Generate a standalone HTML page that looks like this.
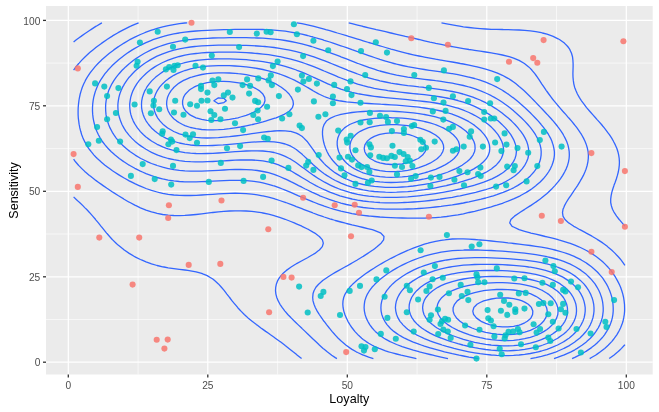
<!DOCTYPE html>
<html><head><meta charset="utf-8"><title>Loyalty vs Sensitivity</title>
<style>
html,body{margin:0;padding:0;background:#fff;}
body{width:659px;height:412px;overflow:hidden;font-family:"Liberation Sans",sans-serif;}
svg{display:block;}
text{font-family:"Liberation Sans",sans-serif;}
</style></head><body>
<svg width="659" height="412" viewBox="0 0 659 412">
<defs><filter id="nf" x="-20%" y="-20%" width="140%" height="140%"><feOffset dx="0" dy="0"/></filter></defs>
<rect x="0" y="0" width="659" height="412" fill="#ffffff"/>
<rect x="46" y="6" width="606.7" height="368.5" fill="#ebebeb"/>
<g stroke="#ffffff" stroke-width="0.62" fill="none">
<path d="M138.1 6 V374.5"/><path d="M46 319.5 H652.7"/>
<path d="M277.6 6 V374.5"/><path d="M46 234 H652.7"/>
<path d="M417.1 6 V374.5"/><path d="M46 148.6 H652.7"/>
<path d="M556.5 6 V374.5"/><path d="M46 63.1 H652.7"/>
</g>
<g stroke="#ffffff" stroke-width="1.25" fill="none">
<path d="M68.3 6 V374.5"/><path d="M46 362.2 H652.7"/>
<path d="M207.8 6 V374.5"/><path d="M46 276.8 H652.7"/>
<path d="M347.3 6 V374.5"/><path d="M46 191.3 H652.7"/>
<path d="M486.8 6 V374.5"/><path d="M46 105.8 H652.7"/>
<path d="M626.3 6 V374.5"/><path d="M46 20.4 H652.7"/>
</g>
<g stroke="#3366ff" stroke-width="1.3" fill="none" stroke-linejoin="round" stroke-linecap="butt">
<path d="M624.9 226.2 L622.1 222.9 L619.4 219.7 L619.2 219.5 L616.6 216.1 L614.3 212.7 L613.8 211.8 L612.5 209.3 L611.4 205.9 L610.7 202.5 L610.7 199.2 L611.1 195.8 L611.8 192.4 L612.8 189 L613.8 186 L613.9 185.6 L615.2 182.2 L616.4 178.8 L617.4 175.4 L618.3 172 L618.9 168.6 L619.3 165.2 L619.4 162.4 L619.4 161.8 L619.4 161.6 L619.2 158.5 L618.7 155.1 L617.9 151.7 L616.8 148.3 L615.3 144.9 L613.8 142 L613.6 141.5 L611.7 138.1 L609.4 134.7 L608.2 133.2 L606.9 131.3 L604.3 127.9 L602.7 126 L601.5 124.5 L598.5 121.1 L597.1 119.6 L595.5 117.8 L592.5 114.4 L591.5 113.3 L589.5 111 L586.6 107.6 L586 106.8 L584 104.2 L581.5 100.8 L580.4 99.2 L579.3 97.4 L577.4 94 L575.9 90.6 L574.8 87.7 L574.6 87.2 L573.8 83.8 L573.3 80.4 L573 77.1 L572.9 73.7 L573 70.3 L573.1 66.9 L573.1 63.5 L572.9 60.1 L572.5 56.7 L571.5 53.3 L570 49.9 L569.3 48.7 L567.7 46.5 L564.4 43.1 L563.7 42.5 L559.8 39.7 L558.1 38.8 L553.1 36.4 L552.5 36.1 L547 34.2 L542.4 33 L541.4 32.7 L535.8 31.6 L530.3 30.9 L524.7 30.3 L519.1 30 L513.6 29.8 L508 29.6 L503.6 29.6 L502.4 29.5 L496.8 29.4 L491.3 29.3 L485.7 29 L480.1 28.6 L474.6 28.1 L469 27.5 L463.4 26.8 L459.6 26.2 L457.9 25.9 L452.3 24.9 L446.7 23.8 L441.5 22.8"/>
<path d="M73.6 196.9 L76 199.2 L79.1 202.1 L79.6 202.5 L83.1 205.9 L84.7 207.6 L86.5 209.3 L89.7 212.7 L90.3 213.4 L92.7 216.1 L95.6 219.5 L95.8 219.8 L98.4 222.9 L101.1 226.3 L101.4 226.7 L103.8 229.7 L106.6 233.1 L107 233.5 L109.6 236.5 L112.5 239.7 L112.7 239.9 L116.1 243.2 L118.1 245.1 L120 246.6 L123.7 249.6 L124.3 250 L129.2 253.4 L129.2 253.4 L134.8 256.7 L135 256.8 L140.4 259.5 L142.1 260.2 L146 261.9 L150.9 263.6 L151.5 263.8 L157.1 265.5 L162.7 266.8 L164 267 L168.2 267.8 L173.8 268.6 L179.4 269.3 L184.9 270 L187.8 270.4 L190.5 270.8 L196.1 271.8 L201.7 273.3 L202.8 273.8 L207.2 275.6 L209.8 277.2 L212.8 279 L214.6 280.6 L218.4 283.9 L218.4 283.9 L221.4 287.3 L223.9 290.2 L224.3 290.7 L226.9 294.1 L229.5 297.3 L229.6 297.5 L232.1 300.9 L235 304.3 L235.1 304.4 L237.8 307.7 L240.6 310.7 L241 311.1 L244.3 314.5 L246.2 316.2 L248 317.9 L251.8 321 L252.1 321.3 L256.4 324.6 L257.4 325.3 L260.9 328 L262.9 329.4 L265.7 331.4 L268.5 333.3 L270.5 334.8 L274.1 337.3 L275.3 338.2 L279.6 341.3 L280.1 341.6 L284.6 345 L285.2 345.5 L288.9 348.4 L290.8 349.9 L293.1 351.8 L296.3 354.3 L297.3 355.2 L301.6 358.6"/>
<path d="M101.9 22.8 L101.4 23.1 L96.2 26.2 L95.8 26.4 L90.9 29.6 L90.3 30 L85.8 33 L84.7 33.7 L81 36.4 L79.1 37.7 L76.3 39.7 L73.6 41.9"/>
<path d="M609.2 358.6 L613.8 355.2 L613.8 355.2 L617.9 351.8 L619.4 350.4 L621.5 348.4 L624.6 345 L624.9 344.6"/>
<path d="M624.9 265.4 L623.7 263.6 L621.2 260.2 L619.4 258 L618.3 256.8 L615.1 253.4 L613.8 252.1 L611.6 250 L608.2 247.2 L607.6 246.6 L603.1 243.2 L602.7 242.9 L598 239.9 L597.1 239.2 L592.4 236.5 L591.5 235.9 L586.3 233.1 L586 232.9 L580.4 229.9 L579.9 229.7 L574.8 226.8 L573.8 226.3 L569.3 223.3 L568.7 222.9 L565 219.5 L563.7 217.3 L563 216.1 L562.5 212.7 L563 209.3 L563.7 207.7 L564.4 205.9 L566.2 202.5 L568.3 199.2 L569.3 197.7 L570.6 195.8 L572.9 192.4 L574.8 189.5 L575.2 189 L577.5 185.6 L579.6 182.2 L580.4 180.7 L581.5 178.8 L583.4 175.4 L584.9 172 L586 169.2 L586.2 168.6 L587.2 165.2 L587.9 161.8 L588.3 158.5 L588.4 155.1 L588.1 151.7 L587.4 148.3 L586.4 144.9 L586 143.8 L585.1 141.5 L583.5 138.1 L581.6 134.7 L580.4 132.9 L579.4 131.3 L577 127.9 L574.8 125.2 L574.3 124.5 L571.6 121.1 L569.3 118.5 L568.6 117.8 L565.7 114.4 L563.7 112.2 L562.6 111 L559.7 107.6 L558.1 105.8 L556.8 104.2 L554 100.8 L552.5 99 L551.3 97.4 L548.8 94 L547 91.5 L546.3 90.6 L544 87.2 L541.7 83.8 L541.4 83.3 L539.5 80.4 L537.3 77.1 L535.8 75 L534.8 73.7 L532 70.3 L530.3 68.4 L528.7 66.9 L524.7 63.7 L524.4 63.5 L519.1 60.4 L518.4 60.1 L513.6 58.1 L509.2 56.7 L508 56.3 L502.4 55 L496.8 53.9 L493.8 53.3 L491.3 52.9 L485.7 52 L480.1 51.2 L474.6 50.3 L471.9 49.9 L469 49.5 L463.4 48.6 L457.9 47.6 L452.3 46.6 L451.7 46.5 L446.7 45.6 L441.1 44.4 L435.6 43.3 L434.9 43.1 L430 42.1 L424.4 40.8 L419.8 39.7 L418.9 39.5 L413.3 38.2 L407.7 36.9 L405.4 36.4 L402.2 35.6 L396.6 34.3 L391 33 L390.8 33 L385.5 31.7 L379.9 30.4 L376.2 29.6 L374.3 29.1 L368.7 27.8 L363.2 26.5 L362.1 26.2 L357.6 25.1 L352 23.6 L348.7 22.8"/>
<path d="M73.6 159.2 L75.5 161.8 L78.5 165.2 L79.1 165.9 L81.8 168.6 L84.7 171.4 L85.4 172 L89.4 175.4 L90.3 176.1 L93.7 178.8 L95.8 180.4 L98.3 182.2 L101.4 184.4 L103.1 185.6 L107 188.3 L108.1 189 L112.5 192 L113.2 192.4 L118.1 195.5 L118.5 195.8 L123.7 198.9 L124.1 199.2 L129.2 202.2 L130 202.5 L134.8 205.1 L136.5 205.9 L140.4 207.8 L144.2 209.3 L146 210.1 L151.5 211.9 L154.6 212.7 L157.1 213.4 L162.7 214.5 L168.2 215.2 L173.8 215.5 L179.4 215.6 L184.9 215.4 L190.5 215 L196.1 214.5 L201.7 213.9 L207.2 213.2 L211.2 212.7 L212.8 212.5 L218.4 211.9 L223.9 211.4 L229.5 211 L235.1 210.8 L240.6 210.8 L246.2 211 L251.8 211.4 L257.4 212.1 L261.4 212.7 L262.9 213 L268.5 214.2 L274.1 215.7 L275.5 216.1 L279.6 217.4 L285.2 219.3 L285.7 219.5 L290.8 221.5 L294.3 222.9 L296.3 223.8 L301.9 226.2 L302 226.3 L307.5 229 L308.9 229.7 L313 232.1 L314.8 233.1 L318.6 235.9 L319.4 236.5 L322.4 239.9 L323.3 243.2 L322.3 246.6 L319.4 250 L318.6 250.6 L314.9 253.4 L313 254.5 L309.1 256.8 L307.5 257.7 L302.8 260.2 L301.9 260.7 L296.6 263.6 L296.3 263.8 L291.1 267 L290.8 267.2 L286.4 270.4 L285.2 271.4 L282.6 273.8 L279.8 277.2 L279.6 277.4 L277.7 280.6 L276.4 283.9 L275.7 287.3 L275.5 290.7 L275.9 294.1 L276.8 297.5 L278.2 300.9 L279.6 303.5 L280 304.3 L282.3 307.7 L284.9 311.1 L285.2 311.4 L287.8 314.5 L290.8 317.5 L291.1 317.9 L294.5 321.3 L296.3 323 L298 324.6 L301.6 328 L301.9 328.4 L305.1 331.4 L307.5 333.7 L308.6 334.8 L312.2 338.2 L313 339.1 L315.7 341.6 L318.6 344.3 L319.3 345 L323.1 348.4 L324.2 349.3 L327.2 351.8 L329.8 353.7 L331.7 355.2 L335.3 357.6 L336.9 358.6"/>
<path d="M138.6 22.8 L134.8 24.3 L130.7 26.2 L129.2 26.8 L123.8 29.6 L123.7 29.6 L118.1 32.6 L117.6 33 L112.5 35.9 L111.9 36.4 L107 39.5 L106.7 39.7 L101.8 43.1 L101.4 43.4 L97.2 46.5 L95.8 47.6 L92.9 49.9 L90.3 52.1 L88.9 53.3 L85.2 56.7 L84.7 57.2 L81.8 60.1 L79.1 63.1 L78.7 63.5 L75.9 66.9 L73.6 70.2"/>
<path d="M589.7 358.6 L591.5 357.5 L595.5 355.2 L597.1 354.1 L600.4 351.8 L602.7 350 L604.7 348.4 L608.2 345.2 L608.4 345 L611.7 341.6 L613.8 339 L614.4 338.2 L616.8 334.8 L618.8 331.4 L619.4 330.3 L620.5 328 L621.9 324.6 L623 321.3 L623.7 317.9 L624.3 314.5 L624.6 311.1 L624.6 307.7 L624.5 304.3 L624.1 300.9 L623.6 297.5 L622.8 294.1 L621.8 290.7 L620.6 287.3 L619.4 284.6 L619.1 283.9 L617.4 280.6 L615.5 277.2 L613.8 274.6 L613.3 273.8 L610.8 270.4 L608.2 267.4 L607.9 267 L604.6 263.6 L602.7 261.8 L600.9 260.2 L597.1 257.2 L596.5 256.8 L591.5 253.4 L591.5 253.4 L586 250.3 L585.5 250 L580.4 247.5 L578.3 246.6 L574.8 245.1 L569.6 243.2 L569.3 243.1 L563.7 241.3 L558.7 239.9 L558.1 239.7 L552.5 238.2 L547 236.8 L545.3 236.5 L541.4 235.5 L535.8 234.2 L530.9 233.1 L530.3 232.9 L524.7 231.3 L519.1 229.7 L519.1 229.7 L513.6 227 L512.1 226.3 L509.7 222.9 L510.9 219.5 L513.6 217.1 L514.5 216.1 L519.1 213 L519.4 212.7 L524.7 209.4 L524.8 209.3 L530.1 205.9 L530.3 205.9 L535.2 202.5 L535.8 202.1 L539.9 199.2 L541.4 198.1 L544.2 195.8 L547 193.4 L548.1 192.4 L551.7 189 L552.5 188.1 L554.9 185.6 L557.8 182.2 L558.1 181.8 L560.4 178.8 L562.7 175.4 L563.7 173.6 L564.6 172 L566.3 168.6 L567.6 165.2 L568.5 161.8 L569.1 158.5 L569.3 155.7 L569.3 155.1 L569.3 153.9 L569.2 151.7 L568.7 148.3 L567.9 144.9 L566.7 141.5 L565.1 138.1 L563.7 135.5 L563.3 134.7 L561.2 131.3 L558.7 127.9 L558.1 127.2 L556.1 124.5 L553.3 121.1 L552.5 120.3 L550.3 117.8 L547.2 114.4 L547 114.2 L544 111 L541.4 108.2 L540.8 107.6 L537.5 104.2 L535.8 102.4 L534.2 100.8 L530.9 97.4 L530.3 96.8 L527.5 94 L524.7 91.3 L523.9 90.6 L520.1 87.2 L519.1 86.4 L516 83.8 L513.6 82 L511.3 80.4 L508 78.3 L505.7 77.1 L502.4 75.3 L498.7 73.7 L496.8 72.8 L491.3 70.8 L489.6 70.3 L485.7 69.1 L480.1 67.6 L477.1 66.9 L474.6 66.3 L469 65.1 L463.4 64 L460.3 63.5 L457.9 63 L452.3 62 L446.7 61.1 L441.1 60.1 L440.8 60.1 L435.6 59.2 L430 58.1 L424.4 57.1 L422.4 56.7 L418.9 56 L413.3 54.8 L407.7 53.5 L407.1 53.3 L402.2 52.1 L396.6 50.6 L394.1 49.9 L391 49.1 L385.5 47.5 L382.2 46.5 L379.9 45.8 L374.3 44.2 L370.9 43.1 L368.7 42.5 L363.2 40.8 L359.7 39.7 L357.6 39.1 L352 37.4 L348.6 36.4 L346.5 35.7 L340.9 34 L337.4 33 L335.3 32.3 L329.8 30.7 L325.8 29.6 L324.2 29.1 L318.6 27.6 L313.1 26.2 L313 26.2 L307.5 24.8 L301.9 23.7 L297 22.8"/>
<path d="M187.2 22.8 L184.9 23 L179.4 23.7 L173.8 24.6 L168.2 25.7 L166 26.2 L162.7 26.9 L157.1 28.4 L153.4 29.6 L151.5 30.2 L146 32.2 L144.1 33 L140.4 34.5 L136.4 36.4 L134.8 37.1 L129.8 39.7 L129.2 40 L124 43.1 L123.7 43.3 L118.7 46.5 L118.1 46.9 L113.8 49.9 L112.5 50.9 L109.4 53.3 L107 55.3 L105.3 56.7 L101.5 60.1 L101.4 60.2 L98 63.5 L95.8 65.9 L94.9 66.9 L92.1 70.3 L90.3 72.7 L89.6 73.7 L87.3 77.1 L85.4 80.4 L84.7 82 L83.8 83.8 L82.3 87.2 L81.2 90.6 L80.2 94 L79.5 97.4 L79.1 99.5 L78.9 100.8 L78.5 104.2 L78.2 107.6 L78.1 111 L78.1 114.4 L78.3 117.8 L78.7 121.1 L79.1 124.2 L79.2 124.5 L79.8 127.9 L80.7 131.3 L81.7 134.7 L83 138.1 L84.6 141.5 L84.7 141.6 L86.5 144.9 L88.6 148.3 L90.3 150.5 L91.2 151.7 L94 155.1 L95.8 157 L97.3 158.5 L101 161.8 L101.4 162.2 L105 165.2 L107 166.7 L109.5 168.6 L112.5 170.8 L114.4 172 L118.1 174.4 L119.7 175.4 L123.7 177.8 L125.5 178.8 L129.2 180.9 L131.8 182.2 L134.8 183.7 L139 185.6 L140.4 186.2 L146 188.5 L147.4 189 L151.5 190.4 L157.1 192 L158.6 192.4 L162.7 193.3 L168.2 194.3 L173.8 195 L179.4 195.4 L184.9 195.5 L190.5 195.5 L196.1 195.3 L201.7 195 L207.2 194.7 L212.8 194.3 L218.4 193.9 L223.9 193.6 L229.5 193.3 L235.1 193.2 L240.6 193.3 L246.2 193.6 L251.8 194.1 L257.4 194.9 L262.3 195.8 L262.9 195.9 L268.5 197.2 L274.1 198.7 L275.5 199.2 L279.6 200.5 L285.2 202.4 L285.7 202.5 L290.8 204.4 L294.7 205.9 L296.3 206.6 L301.9 208.7 L303.4 209.3 L307.5 210.9 L312.3 212.7 L313 213 L318.6 215.1 L321.8 216.1 L324.2 217 L329.8 218.8 L332.3 219.5 L335.3 220.5 L340.9 222 L344.5 222.9 L346.5 223.5 L352 224.9 L357.6 226.1 L358.5 226.3 L363.2 227.5 L368.7 228.8 L372.3 229.7 L374.3 230.4 L379.9 232.6 L380.9 233.1 L384 236.5 L383.6 239.9 L381.1 243.2 L379.9 244.3 L377.3 246.6 L374.3 248.9 L372.8 250 L368.7 252.8 L367.8 253.4 L363.2 256.4 L362.5 256.8 L357.6 259.7 L356.8 260.2 L352 263 L351 263.6 L346.5 266.2 L344.9 267 L340.9 269.3 L338.9 270.4 L335.3 272.4 L333 273.8 L329.8 275.8 L327.5 277.2 L324.2 279.5 L322.7 280.6 L318.9 283.9 L318.6 284.2 L315.9 287.3 L314 290.7 L313 293.8 L313 294.1 L312.7 297.5 L313 300.9 L313 300.9 L314 304.3 L315.4 307.7 L317.2 311.1 L318.6 313.3 L319.3 314.5 L321.6 317.9 L324 321.3 L324.2 321.4 L326.6 324.6 L329.3 328 L329.8 328.6 L332 331.4 L335 334.8 L335.3 335.1 L338.2 338.2 L340.9 340.8 L341.8 341.6 L345.8 345 L346.5 345.5 L350.5 348.4 L352 349.4 L356.2 351.8 L357.6 352.5 L363.2 355.1 L363.5 355.2 L368.7 357.1 L373.4 358.6"/>
<path d="M572.1 358.6 L574.8 357.4 L579.3 355.2 L580.4 354.6 L585.3 351.8 L586 351.4 L590.4 348.4 L591.5 347.6 L594.8 345 L597.1 342.9 L598.5 341.6 L601.7 338.2 L602.7 337.1 L604.5 334.8 L606.7 331.4 L608.2 328.7 L608.6 328 L610.2 324.6 L611.4 321.3 L612.3 317.9 L612.9 314.5 L613.2 311.1 L613.2 307.7 L613 304.3 L612.6 300.9 L611.9 297.5 L610.9 294.1 L609.7 290.7 L608.2 287.5 L608.2 287.3 L606.4 283.9 L604.3 280.6 L602.7 278.2 L601.9 277.2 L599 273.8 L597.1 271.7 L595.7 270.4 L591.8 267 L591.5 266.7 L587.2 263.6 L586 262.7 L581.7 260.2 L580.4 259.4 L575 256.8 L574.8 256.7 L569.3 254.4 L566.4 253.4 L563.7 252.5 L558.1 250.8 L554.9 250 L552.5 249.4 L547 248.2 L541.4 247.2 L537.7 246.6 L535.8 246.3 L530.3 245.5 L524.7 244.8 L519.1 244.1 L513.6 243.5 L511.2 243.2 L508 242.9 L502.4 242.2 L496.8 241.6 L491.3 241 L485.7 240.4 L480.1 240 L478.8 239.9 L474.6 239.5 L469 239.1 L463.4 238.9 L457.9 238.8 L452.3 239 L446.7 239.6 L444.7 239.9 L441.1 240.3 L435.6 241.3 L430 242.6 L428.1 243.2 L424.4 244.2 L418.9 246.1 L417.4 246.6 L413.3 248.1 L408.7 250 L407.7 250.4 L402.2 252.8 L401 253.4 L396.6 255.5 L394 256.8 L391 258.3 L387.5 260.2 L385.5 261.3 L381.5 263.6 L379.9 264.5 L375.8 267 L374.3 268 L370.5 270.4 L368.7 271.6 L365.5 273.8 L363.2 275.5 L360.9 277.2 L357.6 279.8 L356.7 280.6 L352.9 283.9 L352 284.9 L349.7 287.3 L347.1 290.7 L346.5 291.9 L345.1 294.1 L343.7 297.5 L343 300.9 L342.8 304.3 L343.1 307.7 L343.8 311.1 L344.9 314.5 L346.3 317.9 L346.5 318.2 L347.9 321.3 L349.9 324.6 L352 327.8 L352.2 328 L354.8 331.4 L357.6 334.4 L358 334.8 L361.7 338.2 L363.2 339.4 L366.2 341.6 L368.7 343.2 L371.8 345 L374.3 346.3 L379.1 348.4 L379.9 348.7 L385.5 350.8 L388.6 351.8 L391 352.5 L396.6 354 L401.1 355.2 L402.2 355.4 L407.7 356.7 L413.3 357.9 L416.4 358.6"/>
<path d="M370.5 216.1 L374.3 216.5 L379.9 217 L385.5 217.3 L391 217.6 L396.6 217.8 L402.2 218 L407.7 218.1 L413.3 218.2 L418.9 218.2 L424.4 218.1 L430 217.9 L435.6 217.6 L441.1 217.2 L446.7 216.5 L449.2 216.1 L452.3 215.7 L457.9 214.9 L463.4 213.8 L468.1 212.7 L469 212.5 L474.6 211.3 L480.1 209.9 L482.1 209.3 L485.7 208.4 L491.3 206.8 L494.1 205.9 L496.8 205.1 L502.4 203.3 L504.3 202.5 L508 201.2 L512.9 199.2 L513.6 198.9 L519.1 196.3 L520.2 195.8 L524.7 193.3 L526.3 192.4 L530.3 189.9 L531.6 189 L535.8 185.8 L536 185.6 L539.9 182.2 L541.4 180.7 L543.3 178.8 L546.1 175.4 L547 174.2 L548.5 172 L550.5 168.6 L552 165.2 L552.5 163.8 L553.2 161.8 L554 158.5 L554.4 155.1 L554.4 151.7 L553.9 148.3 L553.1 144.9 L552.5 143.2 L552 141.5 L550.5 138.1 L548.6 134.7 L547 132.2 L546.4 131.3 L543.9 127.9 L541.4 124.8 L541.2 124.5 L538.3 121.1 L535.8 118.5 L535.1 117.8 L531.8 114.4 L530.3 112.8 L528.4 111 L524.7 107.6 L524.7 107.6 L521 104.2 L519.1 102.6 L517 100.8 L513.6 98 L512.7 97.4 L508.1 94 L508 94 L502.9 90.6 L502.4 90.3 L496.9 87.2 L496.8 87.2 L491.3 84.5 L489.7 83.8 L485.7 82.2 L480.7 80.4 L480.1 80.2 L474.6 78.5 L469 77.1 L468.7 77.1 L463.4 75.8 L457.9 74.7 L452.3 73.7 L451.9 73.7 L446.7 72.8 L441.1 71.9 L435.6 71.1 L430 70.3 L429.5 70.3 L424.4 69.5 L418.9 68.6 L413.3 67.7 L408.8 66.9 L407.7 66.7 L402.2 65.5 L396.6 64.2 L393.9 63.5 L391 62.7 L385.5 61.1 L382.2 60.1 L379.9 59.4 L374.3 57.5 L371.9 56.7 L368.7 55.6 L363.2 53.7 L362.2 53.3 L357.6 51.7 L352.7 49.9 L352 49.7 L346.5 47.7 L343.1 46.5 L340.9 45.8 L335.3 43.9 L333.1 43.1 L329.8 42 L324.2 40.3 L322.5 39.7 L318.6 38.6 L313 37 L310.6 36.4 L307.5 35.5 L301.9 34.2 L296.3 33.1 L295.7 33 L290.8 32.1 L285.2 31.2 L279.6 30.6 L274.1 30.1 L268.5 29.7 L265.4 29.6 L262.9 29.5 L257.4 29.3 L251.8 29.3 L246.2 29.3 L240.6 29.3 L235.1 29.4 L229.5 29.6 L229.2 29.6 L223.9 29.7 L218.4 29.9 L212.8 30.1 L207.2 30.3 L201.7 30.6 L196.1 31 L190.5 31.5 L184.9 32.1 L179.4 32.9 L179.2 33 L173.8 33.9 L168.2 35.1 L163.5 36.4 L162.7 36.6 L157.1 38.3 L153 39.7 L151.5 40.3 L146 42.6 L144.9 43.1 L140.4 45.3 L138.2 46.5 L134.8 48.4 L132.3 49.9 L129.2 51.9 L127.1 53.3 L123.7 55.8 L122.5 56.7 L118.3 60.1 L118.1 60.2 L114.4 63.5 L112.5 65.3 L111 66.9 L107.8 70.3 L107 71.3 L105 73.7 L102.6 77.1 L101.4 78.9 L100.4 80.4 L98.5 83.8 L97 87.2 L95.8 90.2 L95.6 90.6 L94.6 94 L93.7 97.4 L93.1 100.8 L92.7 104.2 L92.5 107.6 L92.5 111 L92.7 114.4 L93.1 117.8 L93.7 121.1 L94.5 124.5 L95.5 127.9 L95.8 128.7 L96.8 131.3 L98.4 134.7 L100.3 138.1 L101.4 139.9 L102.4 141.5 L105 144.9 L107 147.2 L107.9 148.3 L111.3 151.7 L112.5 152.8 L115 155.1 L118.1 157.5 L119.3 158.5 L123.7 161.6 L124 161.8 L129.2 165.2 L129.4 165.2 L134.8 168.3 L135.4 168.6 L140.4 171.1 L142.4 172 L146 173.6 L150.8 175.4 L151.5 175.7 L157.1 177.5 L162.3 178.8 L162.7 178.9 L168.2 180.1 L173.8 180.9 L179.4 181.5 L184.9 181.8 L190.5 181.9 L196.1 181.9 L201.7 181.7 L207.2 181.5 L212.8 181.2 L218.4 180.9 L223.9 180.6 L229.5 180.4 L235.1 180.3 L240.6 180.3 L246.2 180.6 L251.8 181.1 L257.4 181.8 L259.3 182.2 L262.9 182.9 L268.5 184.3 L272.9 185.6 L274.1 185.9 L279.6 187.9 L282.4 189 L285.2 190.1 L290.8 192.4 L290.8 192.4 L296.3 194.8 L298.5 195.8 L301.9 197.2 L306.4 199.2 L307.5 199.6 L313 201.9 L314.6 202.5 L318.6 204.1 L323.7 205.9 L324.2 206.1 L329.8 208 L334.3 209.3 L335.3 209.6 L340.9 211.2 L346.5 212.4 L348 212.7 L352 213.6 L357.6 214.5 L363.2 215.3 L368.7 216 L370.5 216.1Z"/>
<path d="M554 358.6 L558.1 357.2 L563.5 355.2 L563.7 355.1 L569.3 352.6 L571 351.8 L574.8 349.8 L577.2 348.4 L580.4 346.3 L582.3 345 L586 342.2 L586.7 341.6 L590.4 338.2 L591.5 337 L593.5 334.8 L596 331.4 L597.1 329.7 L598.2 328 L599.9 324.6 L601.2 321.3 L602.2 317.9 L602.7 315.3 L602.8 314.5 L603.2 311.1 L603.2 307.7 L602.9 304.3 L602.7 302.6 L602.4 300.9 L601.6 297.5 L600.4 294.1 L599 290.7 L597.1 287.3 L597.1 287.3 L595 283.9 L592.3 280.6 L591.5 279.6 L589.2 277.2 L586 274.1 L585.6 273.8 L581.1 270.4 L580.4 269.9 L575.7 267 L574.8 266.5 L569.3 263.7 L569 263.6 L563.7 261.4 L560.1 260.2 L558.1 259.5 L552.5 258 L547.6 256.8 L547 256.7 L541.4 255.6 L535.8 254.6 L530.3 253.9 L526.3 253.4 L524.7 253.2 L519.1 252.6 L513.6 252.1 L508 251.6 L502.4 251.2 L496.8 250.9 L491.3 250.5 L485.7 250.3 L480.1 250.1 L477.7 250 L474.6 250 L469 249.9 L464.7 250 L463.4 250.1 L457.9 250.3 L452.3 250.7 L446.7 251.4 L441.1 252.2 L435.6 253.4 L435.3 253.4 L430 254.6 L424.4 256.2 L422.6 256.8 L418.9 258 L413.3 260.1 L413.1 260.2 L407.7 262.5 L405.3 263.6 L402.2 265.1 L398.6 267 L396.6 268.1 L392.7 270.4 L391 271.5 L387.5 273.8 L385.5 275.2 L382.8 277.2 L379.9 279.6 L378.7 280.6 L375.1 283.9 L374.3 284.9 L372 287.3 L369.5 290.7 L368.7 292 L367.4 294.1 L365.9 297.5 L364.8 300.9 L364.3 304.3 L364.1 307.7 L364.4 311.1 L365.1 314.5 L366.2 317.9 L367.8 321.3 L368.7 322.9 L369.7 324.6 L372.2 328 L374.3 330.4 L375.3 331.4 L379.2 334.8 L379.9 335.4 L384 338.2 L385.5 339.1 L390.1 341.6 L391 342 L396.6 344.5 L397.9 345 L402.2 346.6 L407.6 348.4 L407.7 348.4 L413.3 350.1 L418.9 351.6 L419.4 351.8 L424.4 353.1 L430 354.5 L432.9 355.2 L435.6 355.8 L441.1 357.1 L446.7 358.3 L448 358.6"/>
<path d="M353.7 205.9 L357.6 206.7 L363.2 207.5 L368.7 208.1 L374.3 208.6 L379.9 208.9 L385.5 209.1 L391 209.2 L396.6 209.2 L402.2 209.1 L407.7 209 L413.3 208.8 L418.9 208.5 L424.4 208.1 L430 207.6 L435.6 207 L441.1 206.4 L444.4 205.9 L446.7 205.6 L452.3 204.9 L457.9 204 L463.4 203 L465.5 202.5 L469 201.9 L474.6 200.7 L480.1 199.4 L481.1 199.2 L485.7 198 L491.3 196.4 L493.4 195.8 L496.8 194.7 L502.4 192.7 L503.2 192.4 L508 190.4 L511.1 189 L513.6 187.8 L517.5 185.6 L519.1 184.6 L522.8 182.2 L524.7 180.8 L527.2 178.8 L530.3 176 L530.8 175.4 L533.9 172 L535.8 169.3 L536.3 168.6 L538.2 165.2 L539.7 161.8 L540.6 158.5 L541.1 155.1 L541.2 151.7 L540.9 148.3 L540.1 144.9 L539 141.5 L537.4 138.1 L535.8 135.3 L535.5 134.7 L533.3 131.3 L530.7 127.9 L530.3 127.4 L527.8 124.5 L524.7 121.1 L524.7 121.1 L521.3 117.8 L519.1 115.7 L517.7 114.4 L513.8 111 L513.6 110.8 L509.6 107.6 L508 106.3 L505.1 104.2 L502.4 102.3 L500.1 100.8 L496.8 98.8 L494.4 97.4 L491.3 95.7 L487.9 94 L485.7 93 L480.1 90.7 L479.9 90.6 L474.6 88.7 L469.7 87.2 L469 87 L463.4 85.5 L457.9 84.3 L455.4 83.8 L452.3 83.2 L446.7 82.3 L441.1 81.4 L435.6 80.7 L433.6 80.4 L430 80 L424.4 79.3 L418.9 78.6 L413.3 77.8 L407.7 77.1 L407.7 77.1 L402.2 76.1 L396.6 75.1 L391 73.9 L390.1 73.7 L385.5 72.5 L379.9 71 L377.6 70.3 L374.3 69.2 L368.7 67.4 L367.4 66.9 L363.2 65.4 L358.2 63.5 L357.6 63.3 L352 61.1 L349.5 60.1 L346.5 58.9 L340.9 56.8 L340.7 56.7 L335.3 54.7 L331.7 53.3 L329.8 52.6 L324.2 50.6 L322.1 49.9 L318.6 48.8 L313 47 L311.4 46.5 L307.5 45.4 L301.9 43.9 L298.5 43.1 L296.3 42.6 L290.8 41.5 L285.2 40.5 L279.7 39.7 L279.6 39.7 L274.1 39.1 L268.5 38.6 L262.9 38.2 L257.4 38 L251.8 37.8 L246.2 37.7 L240.6 37.7 L235.1 37.7 L229.5 37.7 L223.9 37.8 L218.4 37.9 L212.8 38 L207.2 38.3 L201.7 38.6 L196.1 39 L190.5 39.6 L189 39.7 L184.9 40.3 L179.4 41.2 L173.8 42.3 L170.4 43.1 L168.2 43.7 L162.7 45.4 L159.4 46.5 L157.1 47.4 L151.5 49.7 L151.1 49.9 L146 52.5 L144.5 53.3 L140.4 55.7 L138.8 56.7 L134.8 59.4 L133.9 60.1 L129.5 63.5 L129.2 63.7 L125.6 66.9 L123.7 68.8 L122.1 70.3 L119.1 73.7 L118.1 74.9 L116.3 77.1 L114 80.4 L112.5 82.8 L111.9 83.8 L110.2 87.2 L108.7 90.6 L107.6 94 L107 96.4 L106.7 97.4 L106.1 100.8 L105.7 104.2 L105.6 107.6 L105.7 111 L106 114.4 L106.6 117.8 L107 119.1 L107.5 121.1 L108.6 124.5 L110 127.9 L111.8 131.3 L112.5 132.6 L113.8 134.7 L116.2 138.1 L118.1 140.4 L119.1 141.5 L122.3 144.9 L123.7 146.2 L126 148.3 L129.2 150.9 L130.3 151.7 L134.8 154.8 L135.2 155.1 L140.4 158.2 L140.9 158.5 L146 161 L147.7 161.8 L151.5 163.5 L156.3 165.2 L157.1 165.5 L162.7 167.2 L168.2 168.6 L168.6 168.6 L173.8 169.6 L179.4 170.3 L184.9 170.8 L190.5 171.1 L196.1 171.1 L201.7 171.1 L207.2 170.9 L212.8 170.6 L218.4 170.3 L223.9 170 L229.5 169.7 L235.1 169.5 L240.6 169.5 L246.2 169.6 L251.8 169.9 L257.4 170.5 L262.9 171.5 L265.4 172 L268.5 172.7 L274.1 174.4 L276.7 175.4 L279.6 176.5 L284.9 178.8 L285.2 178.9 L290.8 181.6 L291.9 182.2 L296.3 184.4 L298.6 185.6 L301.9 187.2 L305.3 189 L307.5 190 L312.3 192.4 L313 192.7 L318.6 195.2 L319.9 195.8 L324.2 197.5 L328.6 199.2 L329.8 199.6 L335.3 201.4 L339.1 202.5 L340.9 203.1 L346.5 204.5 L352 205.7 L353.7 205.9Z"/>
<path d="M530.5 358.6 L535.8 357.6 L541.4 356.4 L545.9 355.2 L547 354.9 L552.5 353.1 L556.2 351.8 L558.1 351 L563.7 348.5 L564 348.4 L569.3 345.6 L570.2 345 L574.8 342 L575.3 341.6 L579.6 338.2 L580.4 337.5 L583.1 334.8 L586 331.5 L586.1 331.4 L588.5 328 L590.4 324.6 L591.5 322 L591.8 321.3 L592.9 317.9 L593.6 314.5 L594 311.1 L594 307.7 L593.7 304.3 L593 300.9 L592 297.5 L591.5 296.4 L590.6 294.1 L588.8 290.7 L586.6 287.3 L586 286.5 L583.9 283.9 L580.6 280.6 L580.4 280.4 L576.6 277.2 L574.8 275.9 L571.6 273.8 L569.3 272.4 L565.4 270.4 L563.7 269.6 L558.1 267.3 L557.2 267 L552.5 265.5 L547 263.9 L545.4 263.6 L541.4 262.7 L535.8 261.7 L530.3 260.9 L525 260.2 L524.7 260.2 L519.1 259.6 L513.6 259.1 L508 258.7 L502.4 258.4 L496.8 258.1 L491.3 257.9 L485.7 257.7 L480.1 257.7 L474.6 257.7 L469 257.8 L463.4 258.1 L457.9 258.5 L452.3 259.1 L446.7 260 L445.4 260.2 L441.1 261 L435.6 262.2 L430.6 263.6 L430 263.8 L424.4 265.6 L420.7 267 L418.9 267.7 L413.3 270.2 L412.9 270.4 L407.7 273.1 L406.5 273.8 L402.2 276.5 L401.1 277.2 L396.6 280.5 L396.5 280.6 L392.6 283.9 L391 285.6 L389.4 287.3 L386.7 290.7 L385.5 292.7 L384.6 294.1 L382.9 297.5 L381.8 300.9 L381.1 304.3 L380.9 307.7 L381.1 311.1 L381.8 314.5 L383 317.9 L384.8 321.3 L385.5 322.3 L387 324.6 L390 328 L391 329 L393.8 331.4 L396.6 333.4 L398.6 334.8 L402.2 336.9 L404.6 338.2 L407.7 339.7 L412.1 341.6 L413.3 342.1 L418.9 344.2 L421.2 345 L424.4 346.1 L430 347.8 L432 348.4 L435.6 349.4 L441.1 350.9 L444.5 351.8 L446.7 352.3 L452.3 353.7 L457.9 354.9 L459.2 355.2 L463.4 356 L469 357.1 L474.6 358 L478.5 358.6"/>
<path d="M379.5 202.5 L379.9 202.6 L385.5 202.8 L391 202.9 L396.6 202.8 L402.2 202.6 L404.1 202.5 L407.7 202.4 L413.3 202 L418.9 201.6 L424.4 201.1 L430 200.5 L435.6 199.8 L440 199.2 L441.1 199 L446.7 198.2 L452.3 197.3 L457.9 196.2 L460.2 195.8 L463.4 195.1 L469 193.9 L474.6 192.6 L475.6 192.4 L480.1 191.2 L485.7 189.6 L487.6 189 L491.3 187.8 L496.8 185.7 L497.1 185.6 L502.4 183.3 L504.6 182.2 L508 180.3 L510.6 178.8 L513.6 176.8 L515.4 175.4 L519.1 172.2 L519.3 172 L522.4 168.6 L524.7 165.4 L524.8 165.2 L526.6 161.8 L527.9 158.5 L528.6 155.1 L528.8 151.7 L528.5 148.3 L527.8 144.9 L526.7 141.5 L525.1 138.1 L524.7 137.4 L523.1 134.7 L520.8 131.3 L519.1 129.3 L518 127.9 L515 124.5 L513.6 123.1 L511.6 121.1 L508 117.8 L507.9 117.8 L503.8 114.4 L502.4 113.3 L499.3 111 L496.8 109.3 L494.2 107.6 L491.3 105.8 L488.5 104.2 L485.7 102.7 L481.8 100.8 L480.1 100 L474.6 97.8 L473.6 97.4 L469 95.8 L463.4 94.1 L462.9 94 L457.9 92.7 L452.3 91.5 L447.5 90.6 L446.7 90.5 L441.1 89.6 L435.6 88.8 L430 88.1 L424.4 87.5 L422.1 87.2 L418.9 86.9 L413.3 86.2 L407.7 85.6 L402.2 84.8 L396.6 84 L395.3 83.8 L391 83.1 L385.5 82 L379.9 80.8 L378.4 80.4 L374.3 79.4 L368.7 77.8 L366.4 77.1 L363.2 76 L357.6 74 L356.7 73.7 L352 71.9 L347.9 70.3 L346.5 69.7 L340.9 67.4 L339.6 66.9 L335.3 65.1 L331.3 63.5 L329.8 62.9 L324.2 60.7 L322.6 60.1 L318.6 58.6 L313.2 56.7 L313 56.7 L307.5 54.9 L302.3 53.3 L301.9 53.2 L296.3 51.7 L290.8 50.4 L288.4 49.9 L285.2 49.3 L279.6 48.3 L274.1 47.5 L268.5 46.9 L264.8 46.5 L262.9 46.4 L257.4 46 L251.8 45.6 L246.2 45.4 L240.6 45.3 L235.1 45.2 L229.5 45.1 L223.9 45.1 L218.4 45.2 L212.8 45.4 L207.2 45.6 L201.7 45.9 L196.1 46.4 L194.9 46.5 L190.5 47 L184.9 47.9 L179.4 48.9 L175.1 49.9 L173.8 50.2 L168.2 51.9 L164.1 53.3 L162.7 53.9 L157.1 56.2 L156.1 56.7 L151.5 59.1 L149.8 60.1 L146 62.5 L144.4 63.5 L140.4 66.5 L139.9 66.9 L135.9 70.3 L134.8 71.3 L132.4 73.7 L129.4 77.1 L129.2 77.2 L126.8 80.4 L124.5 83.8 L123.7 85.4 L122.6 87.2 L121.1 90.6 L119.8 94 L118.9 97.4 L118.3 100.8 L118.1 102.4 L117.9 104.2 L117.9 107.6 L118.1 110.9 L118.1 111 L118.6 114.4 L119.5 117.8 L120.6 121.1 L122 124.5 L123.7 127.6 L123.8 127.9 L126 131.3 L128.6 134.7 L129.2 135.4 L131.7 138.1 L134.8 141.1 L135.2 141.5 L139.4 144.9 L140.4 145.6 L144.4 148.3 L146 149.3 L150.3 151.7 L151.5 152.3 L157.1 154.8 L157.8 155.1 L162.7 156.8 L168.2 158.5 L168.2 158.5 L173.8 159.7 L179.4 160.7 L184.9 161.3 L190.5 161.7 L195.3 161.8 L196.1 161.9 L201.7 161.9 L202.5 161.8 L207.2 161.7 L212.8 161.5 L218.4 161.2 L223.9 160.8 L229.5 160.5 L235.1 160.2 L240.6 160 L246.2 159.9 L251.8 160 L257.4 160.3 L262.9 160.9 L268.1 161.8 L268.5 161.9 L274.1 163.4 L279.3 165.2 L279.6 165.4 L285.2 167.9 L286.6 168.6 L290.8 170.8 L292.8 172 L296.3 174.1 L298.5 175.4 L301.9 177.5 L304.1 178.8 L307.5 180.8 L309.8 182.2 L313 184 L315.9 185.6 L318.6 187 L322.7 189 L324.2 189.7 L329.8 192.1 L330.5 192.4 L335.3 194.2 L339.9 195.8 L340.9 196.1 L346.5 197.7 L352 199 L352.7 199.2 L357.6 200.1 L363.2 201 L368.7 201.7 L374.3 202.2 L379.5 202.5Z"/>
<path d="M493.8 355.2 L496.8 355.4 L502.4 355.6 L508 355.6 L513.6 355.4 L516.7 355.2 L519.1 355 L524.7 354.4 L530.3 353.5 L535.8 352.4 L538.3 351.8 L541.4 351 L547 349.3 L549.5 348.4 L552.5 347.2 L557.6 345 L558.1 344.7 L563.7 341.7 L563.9 341.6 L568.9 338.2 L569.3 337.9 L573 334.8 L574.8 333 L576.4 331.4 L579.1 328 L580.4 326 L581.2 324.6 L582.9 321.3 L584.1 317.9 L584.8 314.5 L585.2 311.1 L585.2 307.7 L584.7 304.3 L583.9 300.9 L582.7 297.5 L581 294.1 L580.4 293.2 L578.8 290.7 L576 287.3 L574.8 286.1 L572.6 283.9 L569.3 281.2 L568.3 280.6 L563.7 277.6 L562.9 277.2 L558.1 274.8 L555.7 273.8 L552.5 272.6 L547 270.8 L545.5 270.4 L541.4 269.3 L535.8 268.1 L530.3 267.2 L528.7 267 L524.7 266.4 L519.1 265.8 L513.6 265.4 L508 265 L502.4 264.7 L496.8 264.5 L491.3 264.4 L485.7 264.3 L480.1 264.4 L474.6 264.5 L469 264.8 L463.4 265.2 L457.9 265.8 L452.3 266.6 L450.2 267 L446.7 267.6 L441.1 268.9 L435.8 270.4 L435.6 270.4 L430 272.3 L426.3 273.8 L424.4 274.6 L419.1 277.2 L418.9 277.3 L413.4 280.6 L413.3 280.6 L408.7 283.9 L407.7 284.8 L404.9 287.3 L402.2 290.4 L401.9 290.7 L399.5 294.1 L397.7 297.5 L396.6 300.4 L396.4 300.9 L395.7 304.3 L395.4 307.7 L395.8 311.1 L396.6 314.5 L396.6 314.5 L398 317.9 L400 321.3 L402.2 323.9 L402.7 324.6 L406.3 328 L407.7 329.2 L410.8 331.4 L413.3 333 L416.5 334.8 L418.9 336 L423.5 338.2 L424.4 338.6 L430 340.9 L431.9 341.6 L435.6 342.9 L441.1 344.7 L442 345 L446.7 346.4 L452.3 347.9 L454 348.4 L457.9 349.3 L463.4 350.6 L468.9 351.8 L469 351.8 L474.6 352.8 L480.1 353.7 L485.7 354.4 L491.3 355 L493.8 355.2Z"/>
<path d="M366.6 195.8 L368.7 196.1 L374.3 196.7 L379.9 197.1 L385.5 197.3 L391 197.4 L396.6 197.3 L402.2 197.1 L407.7 196.8 L413.3 196.3 L418.9 195.8 L419 195.8 L424.4 195.2 L430 194.4 L435.6 193.6 L441.1 192.7 L442.9 192.4 L446.7 191.7 L452.3 190.6 L457.9 189.4 L459.8 189 L463.4 188.1 L469 186.7 L473.1 185.6 L474.6 185.2 L480.1 183.4 L483.7 182.2 L485.7 181.4 L491.3 179.1 L492 178.8 L496.8 176.4 L498.6 175.4 L502.4 173 L503.8 172 L507.9 168.6 L508 168.5 L511 165.2 L513.3 161.8 L513.6 161.4 L515 158.5 L516 155.1 L516.4 151.7 L516.2 148.3 L515.6 144.9 L514.4 141.5 L513.6 139.6 L512.8 138.1 L510.8 134.7 L508.3 131.3 L508 131 L505.4 127.9 L502.4 124.9 L502 124.5 L498.3 121.1 L496.8 120 L494 117.8 L491.3 115.8 L489.2 114.4 L485.7 112.2 L483.6 111 L480.1 109.1 L477.1 107.6 L474.6 106.4 L469.2 104.2 L469 104.1 L463.4 102.2 L458.7 100.8 L457.9 100.5 L452.3 99.2 L446.7 98 L443.5 97.4 L441.1 97 L435.6 96.1 L430 95.4 L424.4 94.7 L418.9 94.1 L417.6 94 L413.3 93.6 L407.7 93 L402.2 92.4 L396.6 91.7 L391 91 L387.9 90.6 L385.5 90.2 L379.9 89.3 L374.3 88.3 L369.4 87.2 L368.7 87.1 L363.2 85.7 L357.6 84.1 L356.9 83.8 L352 82.2 L347 80.4 L346.5 80.2 L340.9 78 L338.5 77.1 L335.3 75.7 L330.5 73.7 L329.8 73.3 L324.2 71 L322.6 70.3 L318.6 68.6 L314.3 66.9 L313 66.4 L307.5 64.3 L305.1 63.5 L301.9 62.4 L296.3 60.7 L294.3 60.1 L290.8 59.1 L285.2 57.8 L280.2 56.7 L279.6 56.6 L274.1 55.6 L268.5 54.7 L262.9 54.1 L257.4 53.5 L255.1 53.3 L251.8 53 L246.2 52.7 L240.6 52.4 L235.1 52.2 L229.5 52.1 L223.9 52.1 L218.4 52.1 L212.8 52.3 L207.2 52.5 L201.7 52.9 L197.6 53.3 L196.1 53.5 L190.5 54.2 L184.9 55.2 L179.4 56.5 L178.6 56.7 L173.8 58.1 L168.2 60.1 L168.1 60.1 L162.7 62.5 L160.7 63.5 L157.1 65.5 L154.8 66.9 L151.5 69.1 L149.9 70.3 L146 73.5 L145.8 73.7 L142.3 77.1 L140.4 79.2 L139.3 80.4 L136.8 83.8 L134.8 87.1 L134.7 87.2 L133 90.6 L131.7 94 L130.7 97.4 L130.1 100.8 L129.7 104.2 L129.8 107.6 L130.1 111 L130.8 114.4 L131.9 117.8 L133.3 121.1 L134.8 123.9 L135.2 124.5 L137.4 127.9 L140.2 131.3 L140.4 131.6 L143.5 134.7 L146 136.9 L147.5 138.1 L151.5 141 L152.3 141.5 L157.1 144.3 L158.4 144.9 L162.7 146.9 L166.4 148.3 L168.2 148.9 L173.8 150.5 L179.1 151.7 L179.4 151.7 L184.9 152.6 L190.5 153.2 L196.1 153.5 L201.7 153.6 L207.2 153.5 L212.8 153.3 L218.4 153 L223.9 152.6 L229.5 152.2 L235.1 151.7 L235.9 151.7 L240.6 151.3 L246.2 151 L251.8 150.8 L257.4 150.8 L262.9 151 L268.5 151.6 L269.1 151.7 L274.1 152.5 L279.6 154.1 L282.2 155.1 L285.2 156.3 L289.4 158.5 L290.8 159.2 L294.8 161.8 L296.3 162.8 L299.6 165.2 L301.9 166.9 L304.2 168.6 L307.5 171 L308.8 172 L313 175 L313.6 175.4 L318.6 178.7 L318.8 178.8 L324.2 182 L324.6 182.2 L329.8 184.9 L331.3 185.6 L335.3 187.4 L339.3 189 L340.9 189.6 L346.5 191.4 L349.8 192.4 L352 193 L357.6 194.3 L363.2 195.3 L366.6 195.8Z"/>
<path d="M478.7 348.4 L480.1 348.6 L485.7 349.5 L491.3 350.1 L496.8 350.5 L502.4 350.7 L508 350.8 L513.6 350.5 L519.1 350.1 L524.7 349.4 L530.3 348.4 L530.4 348.4 L535.8 347.1 L541.4 345.5 L542.9 345 L547 343.5 L551.4 341.6 L552.5 341 L557.7 338.2 L558.1 337.9 L562.6 334.8 L563.7 334 L566.6 331.4 L569.3 328.6 L569.7 328 L572.1 324.6 L574 321.3 L574.8 319.2 L575.3 317.9 L576.2 314.5 L576.5 311.1 L576.4 307.7 L575.9 304.3 L574.8 300.9 L574.8 300.9 L573.3 297.5 L571.2 294.1 L569.3 291.7 L568.4 290.7 L564.9 287.3 L563.7 286.4 L560.3 283.9 L558.1 282.6 L554.2 280.6 L552.5 279.8 L547 277.5 L545.9 277.2 L541.4 275.8 L535.8 274.4 L532.7 273.8 L530.3 273.3 L524.7 272.5 L519.1 271.8 L513.6 271.3 L508 270.9 L502.4 270.7 L496.8 270.5 L491.3 270.5 L485.7 270.5 L480.1 270.7 L474.6 271 L469 271.5 L463.4 272.1 L457.9 272.9 L452.9 273.8 L452.3 273.9 L446.7 275.2 L441.1 276.8 L440.2 277.2 L435.6 278.9 L431.7 280.6 L430 281.4 L425.4 283.9 L424.4 284.5 L420.5 287.3 L418.9 288.7 L416.7 290.7 L413.8 294.1 L413.3 294.9 L411.6 297.5 L410.2 300.9 L409.3 304.3 L409.1 307.7 L409.4 311.1 L410.4 314.5 L412 317.9 L413.3 319.7 L414.4 321.3 L417.6 324.6 L418.9 325.7 L421.7 328 L424.4 329.8 L427 331.4 L430 333.1 L433.5 334.8 L435.6 335.8 L441.1 338.1 L441.4 338.2 L446.7 340.2 L451 341.6 L452.3 342 L457.9 343.7 L462.8 345 L463.4 345.2 L469 346.5 L474.6 347.7 L478.7 348.4Z"/>
<path d="M359.1 189 L363.2 189.9 L368.7 190.8 L374.3 191.5 L379.9 191.9 L385.5 192.2 L391 192.3 L396.6 192.2 L402.2 191.9 L407.7 191.6 L413.3 191.1 L418.9 190.4 L424.4 189.7 L429 189 L430 188.8 L435.6 187.8 L441.1 186.7 L446.5 185.6 L446.7 185.5 L452.3 184.2 L457.9 182.8 L460 182.2 L463.4 181.2 L469 179.4 L470.9 178.8 L474.6 177.4 L479.6 175.4 L480.1 175.2 L485.7 172.4 L486.5 172 L491.3 169 L491.9 168.6 L496 165.2 L496.8 164.4 L499.1 161.8 L501.3 158.5 L502.4 155.8 L502.7 155.1 L503.4 151.7 L503.5 148.3 L502.9 144.9 L502.4 143.3 L501.8 141.5 L500.1 138.1 L498 134.7 L496.8 133.2 L495.3 131.3 L492.1 127.9 L491.3 127.1 L488.4 124.5 L485.7 122.4 L484 121.1 L480.1 118.5 L478.9 117.8 L474.6 115.3 L472.8 114.4 L469 112.5 L465.4 111 L463.4 110.2 L457.9 108.2 L455.7 107.6 L452.3 106.6 L446.7 105.2 L441.9 104.2 L441.1 104 L435.6 103 L430 102.2 L424.4 101.5 L418.9 100.8 L418.5 100.8 L413.3 100.3 L407.7 99.7 L402.2 99.2 L396.6 98.7 L391 98.2 L385.5 97.6 L383.4 97.4 L379.9 97 L374.3 96.3 L368.7 95.5 L363.2 94.6 L359.8 94 L357.6 93.6 L352 92.3 L346.5 90.8 L345.7 90.6 L340.9 89.1 L335.8 87.2 L335.3 87 L329.8 84.7 L327.8 83.8 L324.2 82.2 L320.4 80.4 L318.6 79.6 L313.2 77.1 L313 77 L307.5 74.5 L305.5 73.7 L301.9 72.2 L297 70.3 L296.3 70 L290.8 68.1 L286.8 66.9 L285.2 66.4 L279.6 64.9 L274.1 63.6 L273.3 63.5 L268.5 62.6 L262.9 61.6 L257.4 60.9 L251.8 60.3 L250.1 60.1 L246.2 59.7 L240.6 59.4 L235.1 59.1 L229.5 58.9 L223.9 58.8 L218.4 58.8 L212.8 59 L207.2 59.3 L201.7 59.8 L199 60.1 L196.1 60.5 L190.5 61.4 L184.9 62.6 L181.9 63.5 L179.4 64.2 L173.8 66.2 L172.3 66.9 L168.2 68.7 L165.4 70.3 L162.7 71.9 L160.1 73.7 L157.1 75.9 L155.7 77.1 L152.2 80.4 L151.5 81.1 L149.2 83.8 L146.8 87.2 L146 88.8 L144.9 90.6 L143.5 94 L142.4 97.4 L141.7 100.8 L141.5 104.2 L141.6 107.6 L142.1 111 L143.1 114.4 L144.4 117.8 L146 120.7 L146.2 121.1 L148.6 124.5 L151.5 127.9 L151.5 128 L155.2 131.3 L157.1 132.8 L159.8 134.7 L162.7 136.5 L165.8 138.1 L168.2 139.2 L173.8 141.4 L174.2 141.5 L179.4 143 L184.9 144.2 L190 144.9 L190.5 145 L196.1 145.5 L201.7 145.7 L207.2 145.7 L212.8 145.5 L218.4 145.2 L223.1 144.9 L223.9 144.8 L229.5 144.3 L235.1 143.8 L240.6 143.3 L246.2 142.7 L251.8 142.2 L257.4 141.8 L262.9 141.6 L268.5 141.6 L274.1 141.9 L279.6 142.6 L285.2 144 L287.6 144.9 L290.8 146.2 L294.3 148.3 L296.3 149.5 L299 151.7 L301.9 154 L303 155.1 L306.6 158.5 L307.5 159.2 L310.1 161.8 L313 164.5 L313.8 165.2 L317.6 168.6 L318.6 169.4 L321.9 172 L324.2 173.7 L326.7 175.4 L329.8 177.3 L332.2 178.8 L335.3 180.5 L338.9 182.2 L340.9 183.1 L346.5 185.3 L347.2 185.6 L352 187.2 L357.6 188.7 L359.1 189Z"/>
<path d="M490.8 345 L491.3 345.1 L496.8 345.5 L502.4 345.8 L508 345.8 L513.6 345.6 L519.1 345.1 L519.7 345 L524.7 344.3 L530.3 343.1 L535.8 341.6 L535.9 341.6 L541.4 339.7 L544.8 338.2 L547 337.2 L551.3 334.8 L552.5 334 L556.1 331.4 L558.1 329.7 L559.9 328 L562.7 324.6 L563.7 323.2 L564.9 321.3 L566.4 317.9 L567.3 314.5 L567.6 311.1 L567.4 307.7 L566.7 304.3 L565.3 300.9 L563.7 298 L563.4 297.5 L560.6 294.1 L558.1 291.7 L556.9 290.7 L552.5 287.6 L552 287.3 L547 284.7 L545.2 283.9 L541.4 282.5 L535.8 280.8 L534.9 280.6 L530.3 279.5 L524.7 278.5 L519.1 277.7 L513.6 277.2 L513.6 277.2 L508 276.8 L502.4 276.6 L496.8 276.5 L491.3 276.5 L485.7 276.7 L480.1 277 L478.4 277.2 L474.6 277.5 L469 278.2 L463.4 279 L457.9 280.1 L456.1 280.6 L452.3 281.6 L446.7 283.4 L445.2 283.9 L441.1 285.7 L437.9 287.3 L435.6 288.8 L432.7 290.7 L430 293 L428.8 294.1 L426 297.5 L424.4 300.2 L424.1 300.9 L423 304.3 L422.6 307.7 L423 311.1 L424 314.5 L424.4 315.2 L425.9 317.9 L428.7 321.3 L430 322.5 L432.4 324.6 L435.6 327 L437.1 328 L441.1 330.3 L443.1 331.4 L446.7 333.1 L450.6 334.8 L452.3 335.5 L457.9 337.5 L459.9 338.2 L463.4 339.3 L469 340.9 L471.8 341.6 L474.6 342.3 L480.1 343.4 L485.7 344.3 L490.8 345Z"/>
<path d="M368.7 185.6 L368.7 185.6 L374.3 186.4 L379.9 186.9 L385.5 187.3 L391 187.4 L396.6 187.3 L402.2 187 L407.7 186.6 L413.3 186 L416.3 185.6 L418.9 185.2 L424.4 184.3 L430 183.3 L435.3 182.2 L435.6 182.1 L441.1 180.8 L446.7 179.3 L448.5 178.8 L452.3 177.7 L457.9 175.8 L459 175.4 L463.4 173.7 L467.5 172 L469 171.3 L474.3 168.6 L474.6 168.4 L479.5 165.2 L480.1 164.8 L483.5 161.8 L485.7 159.4 L486.5 158.5 L488.4 155.1 L489.5 151.7 L489.8 148.3 L489.4 144.9 L488.3 141.5 L486.7 138.1 L485.7 136.7 L484.3 134.7 L481.4 131.3 L480.1 130.1 L477.7 127.9 L474.6 125.4 L473.3 124.5 L469 121.8 L468 121.1 L463.4 118.8 L461.3 117.8 L457.9 116.3 L452.7 114.4 L452.3 114.2 L446.7 112.5 L441.1 111 L440.9 111 L435.6 109.8 L430 108.8 L424.4 108 L421.5 107.6 L418.9 107.2 L413.3 106.6 L407.7 106.1 L402.2 105.6 L396.6 105.2 L391 104.8 L385.5 104.5 L380.7 104.2 L379.9 104.1 L374.3 103.8 L368.7 103.5 L363.2 103.1 L357.6 102.8 L352 102.3 L346.5 101.8 L340.9 101 L339.6 100.8 L335.3 100 L329.8 98.5 L326.5 97.4 L324.2 96.5 L318.9 94 L318.6 93.9 L313 90.7 L312.9 90.6 L307.5 87.4 L307.2 87.2 L301.9 84.2 L301.4 83.8 L296.3 81.2 L295 80.4 L290.8 78.5 L287.6 77.1 L285.2 76.1 L279.6 74 L278.5 73.7 L274.1 72.3 L268.5 70.8 L266.3 70.3 L262.9 69.5 L257.4 68.5 L251.8 67.6 L246.2 66.9 L245.9 66.9 L240.6 66.4 L235.1 66 L229.5 65.7 L223.9 65.6 L218.4 65.6 L212.8 65.8 L207.2 66.2 L201.7 66.8 L201.3 66.9 L196.1 67.7 L190.5 68.9 L185.8 70.3 L184.9 70.5 L179.4 72.6 L177.1 73.7 L173.8 75.3 L170.9 77.1 L168.2 78.9 L166.2 80.4 L162.7 83.7 L162.5 83.8 L159.6 87.2 L157.3 90.6 L157.1 91 L155.6 94 L154.4 97.4 L153.8 100.8 L153.5 104.2 L153.8 107.6 L154.5 111 L155.8 114.4 L157.1 116.9 L157.6 117.8 L160.1 121.1 L162.7 123.9 L163.3 124.5 L167.6 127.9 L168.2 128.3 L173.4 131.3 L173.8 131.5 L179.4 133.8 L182.3 134.7 L184.9 135.5 L190.5 136.6 L196.1 137.4 L201.7 137.8 L207.2 138 L212.8 137.9 L218.4 137.7 L223.9 137.2 L229.5 136.7 L235.1 136 L240.6 135.3 L245.1 134.7 L246.2 134.6 L251.8 133.7 L257.4 132.9 L262.9 132.2 L268.5 131.5 L270.7 131.3 L274.1 131 L279.6 130.7 L285.2 130.8 L289.8 131.3 L290.8 131.4 L296.3 133.1 L299.4 134.7 L301.9 136.2 L303.9 138.1 L307.2 141.5 L307.5 141.8 L309.7 144.9 L312.2 148.3 L313 149.4 L314.5 151.7 L317 155.1 L318.6 157.1 L319.6 158.5 L322.5 161.8 L324.2 163.6 L325.8 165.2 L329.6 168.6 L329.8 168.8 L334 172 L335.3 172.9 L339.4 175.4 L340.9 176.3 L346 178.8 L346.5 179 L352 181.3 L354.8 182.2 L357.6 183.1 L363.2 184.5 L368.7 185.6Z"/>
<path d="M482.6 338.2 L485.7 338.8 L491.3 339.6 L496.8 340.2 L502.4 340.5 L508 340.6 L513.6 340.3 L519.1 339.7 L524.7 338.7 L526.8 338.2 L530.3 337.3 L535.8 335.5 L537.4 334.8 L541.4 332.9 L544.1 331.4 L547 329.5 L548.9 328 L552.5 324.6 L552.5 324.6 L555 321.3 L556.7 317.9 L557.8 314.5 L558.1 311.1 L558.1 311.1 L558.1 311.1 L557.8 307.7 L556.7 304.3 L554.9 300.9 L552.5 297.9 L552.2 297.5 L548.3 294.1 L547 293.2 L542.8 290.7 L541.4 290 L535.8 287.7 L534.7 287.3 L530.3 286.1 L524.7 284.8 L519.5 283.9 L519.1 283.9 L513.6 283.3 L508 282.9 L502.4 282.7 L496.8 282.7 L491.3 282.8 L485.7 283.2 L480.1 283.7 L478 283.9 L474.6 284.4 L469 285.4 L463.4 286.7 L461.2 287.3 L457.9 288.4 L452.3 290.6 L452 290.7 L446.7 293.7 L446 294.1 L441.9 297.5 L441.1 298.4 L439.2 300.9 L437.6 304.3 L436.9 307.7 L437.2 311.1 L438.3 314.5 L440.4 317.9 L441.1 318.7 L443.6 321.3 L446.7 323.8 L447.8 324.6 L452.3 327.5 L453.3 328 L457.9 330.3 L460.4 331.4 L463.4 332.6 L469 334.7 L469.5 334.8 L474.6 336.3 L480.1 337.7 L482.6 338.2Z"/>
<path d="M383.5 182.2 L385.5 182.3 L391 182.5 L396.6 182.4 L400 182.2 L402.2 182.1 L407.7 181.6 L413.3 180.8 L418.9 180 L424.4 178.9 L424.8 178.8 L430 177.6 L435.6 176.1 L438 175.4 L441.1 174.4 L446.7 172.5 L448 172 L452.3 170.2 L455.9 168.6 L457.9 167.6 L462.1 165.2 L463.4 164.3 L466.9 161.8 L469 159.9 L470.5 158.5 L473 155.1 L474.5 151.7 L474.6 151.5 L475.1 148.3 L474.9 144.9 L474.6 143.7 L473.9 141.5 L472.1 138.1 L469.5 134.7 L469 134.2 L466.1 131.3 L463.4 129.2 L461.7 127.9 L457.9 125.5 L456.1 124.5 L452.3 122.7 L448.8 121.1 L446.7 120.3 L441.1 118.4 L438.8 117.8 L435.6 116.9 L430 115.6 L424.4 114.5 L423.5 114.4 L418.9 113.6 L413.3 112.9 L407.7 112.3 L402.2 111.9 L396.6 111.5 L391 111.2 L385.5 111.1 L379.9 111 L374.3 111.1 L368.7 111.2 L363.2 111.5 L357.6 111.9 L352 112.5 L346.5 113.3 L341 114.4 L340.9 114.4 L335.3 116 L331.1 117.8 L329.8 118.6 L326.4 121.1 L324.2 124.4 L324.1 124.5 L322.9 127.9 L322.5 131.3 L322.5 134.7 L322.9 138.1 L323.5 141.5 L324.2 144 L324.4 144.9 L325.6 148.3 L327.1 151.7 L328.9 155.1 L329.8 156.3 L331.2 158.5 L333.9 161.8 L335.3 163.3 L337.2 165.2 L340.9 168.3 L341.3 168.6 L346.5 172 L346.5 172 L352 174.9 L353.2 175.4 L357.6 177.2 L362.7 178.8 L363.2 178.9 L368.7 180.3 L374.3 181.3 L379.9 181.9 L383.5 182.2Z"/>
<path d="M192.5 127.9 L196.1 128.7 L201.7 129.5 L207.2 129.9 L212.8 129.9 L218.4 129.7 L223.9 129.3 L229.5 128.7 L235.1 127.9 L235.2 127.9 L240.6 127 L246.2 125.9 L251.8 124.7 L252.6 124.5 L257.4 123.3 L262.9 121.9 L265.6 121.1 L268.5 120.2 L274.1 118.4 L276.1 117.8 L279.6 116.3 L284.1 114.4 L285.2 113.7 L289.5 111 L290.8 109.5 L292.4 107.6 L293.4 104.2 L293 100.8 L291.5 97.4 L290.8 96.5 L289.1 94 L285.7 90.6 L285.2 90.2 L281.3 87.2 L279.6 86.2 L275.7 83.8 L274.1 83.1 L268.5 80.6 L268.1 80.4 L262.9 78.7 L257.5 77.1 L257.4 77 L251.8 75.8 L246.2 74.7 L240.6 73.9 L238.2 73.7 L235.1 73.3 L229.5 73 L223.9 72.8 L218.4 72.8 L212.8 73.1 L207.2 73.6 L207.1 73.7 L201.7 74.5 L196.1 75.8 L191.7 77.1 L190.5 77.4 L184.9 79.8 L183.6 80.4 L179.4 82.9 L178.1 83.8 L174 87.2 L173.8 87.5 L171.1 90.6 L169 94 L168.2 95.7 L167.5 97.4 L166.8 100.8 L166.6 104.2 L167.1 107.6 L168.2 111 L168.2 111 L170.1 114.4 L172.9 117.8 L173.8 118.7 L176.8 121.1 L179.4 122.8 L182.6 124.5 L184.9 125.6 L190.5 127.5 L192.5 127.9Z"/>
<path d="M481.9 331.4 L485.7 332.4 L491.3 333.4 L496.8 334.2 L502.4 334.6 L508 334.6 L513.6 334.3 L519.1 333.5 L524.7 332.2 L527.2 331.4 L530.3 330.3 L535.2 328 L535.8 327.7 L540.2 324.6 L541.4 323.5 L543.5 321.3 L545.7 317.9 L547 314.5 L547 314.2 L547.2 311.1 L547 309.6 L546.6 307.7 L544.9 304.3 L542.3 300.9 L541.4 300.1 L537.9 297.5 L535.8 296.3 L531.3 294.1 L530.3 293.7 L524.7 292 L519.1 290.8 L518.6 290.7 L513.6 290 L508 289.6 L502.4 289.4 L496.8 289.5 L491.3 289.9 L485.7 290.4 L483.7 290.7 L480.1 291.3 L474.6 292.6 L469.4 294.1 L469 294.3 L463.4 296.7 L461.9 297.5 L457.9 300.4 L457.2 300.9 L454.5 304.3 L453.1 307.7 L453.1 311.1 L454.2 314.5 L456.5 317.9 L457.9 319.2 L460 321.3 L463.4 323.6 L465.1 324.6 L469 326.7 L472 328 L474.6 329 L480.1 330.9 L481.9 331.4Z"/>
<path d="M372.5 175.4 L374.3 175.8 L379.9 176.6 L385.5 177.1 L391 177.3 L396.6 177.2 L402.2 176.9 L407.7 176.3 L413.3 175.4 L413.4 175.4 L418.9 174.3 L424.4 172.9 L427.6 172 L430 171.2 L435.6 169.3 L437.2 168.6 L441.1 166.8 L444.5 165.2 L446.7 163.9 L450 161.8 L452.3 160 L454.1 158.5 L457.1 155.1 L457.9 153.6 L458.9 151.7 L459.7 148.3 L459.5 144.9 L458.5 141.5 L457.9 140.5 L456.4 138.1 L453.3 134.7 L452.3 133.9 L449 131.3 L446.7 129.9 L443.2 127.9 L441.1 127 L435.6 124.7 L435.2 124.5 L430 122.9 L424.4 121.5 L423 121.1 L418.9 120.3 L413.3 119.4 L407.7 118.7 L402.2 118.2 L396.6 117.9 L391.8 117.8 L391 117.7 L385.5 117.7 L385.3 117.8 L379.9 118 L374.3 118.4 L368.7 119.1 L363.2 120 L358.6 121.1 L357.6 121.4 L352 123.5 L349.7 124.5 L346.5 126.5 L344.5 127.9 L341.2 131.3 L340.9 131.7 L339.1 134.7 L337.8 138.1 L337.2 141.5 L337.2 144.9 L337.7 148.3 L338.7 151.7 L340.2 155.1 L340.9 156.1 L342.4 158.5 L345.3 161.8 L346.5 162.9 L349.1 165.2 L352 167.3 L354.2 168.6 L357.6 170.4 L361.2 172 L363.2 172.8 L368.7 174.5 L372.5 175.4Z"/>
<path d="M196 117.8 L196.1 117.8 L201.7 119.3 L207.2 120.3 L212.8 120.6 L218.4 120.6 L223.9 120.2 L229.5 119.4 L235.1 118.4 L237.9 117.8 L240.6 117 L246.2 115.3 L248.8 114.4 L251.8 113 L256 111 L257.4 110.1 L260.8 107.6 L262.9 105.2 L263.8 104.2 L265 100.8 L264.7 97.4 L262.9 94.1 L262.9 94 L259.2 90.6 L257.4 89.5 L253.3 87.2 L251.8 86.6 L246.2 84.7 L243.3 83.8 L240.6 83.2 L235.1 82.3 L229.5 81.7 L223.9 81.4 L218.4 81.4 L212.8 81.9 L207.2 82.7 L202.3 83.8 L201.7 84 L196.1 86.1 L193.9 87.2 L190.5 89.3 L188.8 90.6 L185.5 94 L184.9 94.8 L183.5 97.4 L182.6 100.8 L182.6 104.2 L183.5 107.6 L184.9 109.9 L185.7 111 L189.5 114.4 L190.5 115.1 L196 117.8Z"/>
<path d="M489.4 324.6 L491.3 325.2 L496.8 326.3 L502.4 326.9 L508 326.9 L513.6 326.3 L519.1 325.1 L520.6 324.6 L524.7 322.8 L527.3 321.3 L530.3 318.7 L531 317.9 L532.6 314.5 L532.8 311.1 L531.5 307.7 L530.3 306.2 L528.3 304.3 L524.7 302.1 L522.1 300.9 L519.1 299.9 L513.6 298.7 L508 298 L502.4 297.8 L496.8 298.2 L491.3 299 L485.7 300.3 L483.7 300.9 L480.1 302.5 L477 304.3 L474.6 306.7 L473.8 307.7 L472.8 311.1 L473.6 314.5 L474.6 315.7 L476.3 317.9 L480.1 320.6 L481.1 321.3 L485.7 323.3 L489.4 324.6Z"/>
<path d="M371.3 168.6 L374.3 169.5 L379.9 170.6 L385.5 171.3 L391 171.6 L396.6 171.5 L402.2 171.1 L407.7 170.3 L413.3 169.2 L415.5 168.6 L418.9 167.7 L424.4 165.7 L425.7 165.2 L430 163.2 L432.5 161.8 L435.6 159.8 L437.4 158.5 L440.8 155.1 L441.1 154.5 L442.8 151.7 L443.7 148.3 L443.4 144.9 L442 141.5 L441.1 140.4 L439.3 138.1 L435.6 135.1 L435.1 134.7 L430 131.9 L428.8 131.3 L424.4 129.6 L419 127.9 L418.9 127.9 L413.3 126.6 L407.7 125.7 L402.2 125.1 L396.6 124.7 L391 124.6 L385.5 124.9 L379.9 125.4 L374.3 126.3 L368.7 127.7 L368 127.9 L363.2 129.8 L360.2 131.3 L357.6 133 L355.5 134.7 L352.5 138.1 L352 139 L350.8 141.5 L350 144.9 L349.9 148.3 L350.6 151.7 L352 154.9 L352.1 155.1 L354.6 158.5 L357.6 161.4 L358.1 161.8 L363.2 165.2 L363.2 165.2 L368.7 167.7 L371.3 168.6Z"/>
<path d="M213.9 100.8 L218.4 103.7 L223.9 102.6 L226.3 100.8 L223.9 98.3 L218.4 97.8 L213.9 100.8Z"/>
<path d="M376.7 161.8 L379.9 162.9 L385.5 164 L391 164.5 L396.6 164.4 L402.2 163.8 L407.7 162.6 L410.3 161.8 L413.3 160.7 L418.1 158.5 L418.9 158 L422.6 155.1 L424.4 152.7 L425.2 151.7 L426 148.3 L425.3 144.9 L424.4 143.5 L422.9 141.5 L418.9 138.5 L418.2 138.1 L413.3 136 L409.2 134.7 L407.7 134.3 L402.2 133.4 L396.6 132.9 L391 132.9 L385.5 133.4 L379.9 134.4 L379 134.7 L374.3 136.4 L371.1 138.1 L368.7 139.9 L367 141.5 L364.9 144.9 L364.2 148.3 L364.8 151.7 L366.7 155.1 L368.7 157.2 L370.2 158.5 L374.3 160.8 L376.7 161.8Z"/>
</g>
<g fill-opacity="0.85">
<circle cx="191.5" cy="22.8" r="3.05" fill="#f8766d"/>
<circle cx="77.8" cy="68.4" r="3.05" fill="#f8766d"/>
<circle cx="157.7" cy="31.8" r="3.05" fill="#00bfc4"/>
<circle cx="139.9" cy="42.6" r="3.05" fill="#00bfc4"/>
<circle cx="185.2" cy="39.6" r="3.05" fill="#00bfc4"/>
<circle cx="173" cy="46.8" r="3.05" fill="#00bfc4"/>
<circle cx="137.6" cy="61.8" r="3.05" fill="#00bfc4"/>
<circle cx="136.6" cy="65.8" r="3.05" fill="#00bfc4"/>
<circle cx="165.9" cy="69.4" r="3.05" fill="#00bfc4"/>
<circle cx="169.2" cy="67.1" r="3.05" fill="#00bfc4"/>
<circle cx="173.5" cy="69.9" r="3.05" fill="#00bfc4"/>
<circle cx="174.5" cy="65.8" r="3.05" fill="#00bfc4"/>
<circle cx="177.7" cy="65.3" r="3.05" fill="#00bfc4"/>
<circle cx="195.5" cy="65.8" r="3.05" fill="#00bfc4"/>
<circle cx="203" cy="67.6" r="3.05" fill="#00bfc4"/>
<circle cx="95.1" cy="83.4" r="3.05" fill="#00bfc4"/>
<circle cx="104.3" cy="86.6" r="3.05" fill="#00bfc4"/>
<circle cx="118.4" cy="88.1" r="3.05" fill="#00bfc4"/>
<circle cx="107.1" cy="96.1" r="3.05" fill="#00bfc4"/>
<circle cx="149.7" cy="91.4" r="3.05" fill="#00bfc4"/>
<circle cx="166.9" cy="86.6" r="3.05" fill="#00bfc4"/>
<circle cx="201" cy="85.9" r="3.05" fill="#00bfc4"/>
<circle cx="201" cy="89.1" r="3.05" fill="#00bfc4"/>
<circle cx="153.9" cy="100.7" r="3.05" fill="#00bfc4"/>
<circle cx="175.2" cy="100.7" r="3.05" fill="#00bfc4"/>
<circle cx="201.5" cy="100.7" r="3.05" fill="#00bfc4"/>
<circle cx="293.9" cy="24.3" r="3.05" fill="#00bfc4"/>
<circle cx="229.8" cy="32" r="3.05" fill="#00bfc4"/>
<circle cx="256.8" cy="33.6" r="3.05" fill="#00bfc4"/>
<circle cx="266.6" cy="31.8" r="3.05" fill="#00bfc4"/>
<circle cx="270.6" cy="32.3" r="3.05" fill="#00bfc4"/>
<circle cx="296.9" cy="34.3" r="3.05" fill="#00bfc4"/>
<circle cx="313.4" cy="40.8" r="3.05" fill="#00bfc4"/>
<circle cx="239.1" cy="47.1" r="3.05" fill="#00bfc4"/>
<circle cx="328.2" cy="50.3" r="3.05" fill="#00bfc4"/>
<circle cx="361" cy="51.1" r="3.05" fill="#00bfc4"/>
<circle cx="211.8" cy="55.6" r="3.05" fill="#00bfc4"/>
<circle cx="303.1" cy="56.1" r="3.05" fill="#00bfc4"/>
<circle cx="277.6" cy="61.6" r="3.05" fill="#00bfc4"/>
<circle cx="272.9" cy="66.1" r="3.05" fill="#00bfc4"/>
<circle cx="270.8" cy="75.4" r="3.05" fill="#00bfc4"/>
<circle cx="301.9" cy="75.6" r="3.05" fill="#00bfc4"/>
<circle cx="365.2" cy="75.1" r="3.05" fill="#00bfc4"/>
<circle cx="247.1" cy="79.4" r="3.05" fill="#00bfc4"/>
<circle cx="258.3" cy="78.4" r="3.05" fill="#00bfc4"/>
<circle cx="268.6" cy="80.4" r="3.05" fill="#00bfc4"/>
<circle cx="212.5" cy="80.6" r="3.05" fill="#00bfc4"/>
<circle cx="218.3" cy="79.4" r="3.05" fill="#00bfc4"/>
<circle cx="308.9" cy="78.9" r="3.05" fill="#00bfc4"/>
<circle cx="303.4" cy="81.6" r="3.05" fill="#00bfc4"/>
<circle cx="316.9" cy="83.6" r="3.05" fill="#00bfc4"/>
<circle cx="350.5" cy="81.4" r="3.05" fill="#00bfc4"/>
<circle cx="214.3" cy="85.1" r="3.05" fill="#00bfc4"/>
<circle cx="242.6" cy="85.1" r="3.05" fill="#00bfc4"/>
<circle cx="250.1" cy="85.9" r="3.05" fill="#00bfc4"/>
<circle cx="271.9" cy="85.1" r="3.05" fill="#00bfc4"/>
<circle cx="334.2" cy="84.9" r="3.05" fill="#00bfc4"/>
<circle cx="297.9" cy="89.6" r="3.05" fill="#00bfc4"/>
<circle cx="347" cy="89.1" r="3.05" fill="#00bfc4"/>
<circle cx="207.5" cy="92.6" r="3.05" fill="#00bfc4"/>
<circle cx="228" cy="92.6" r="3.05" fill="#00bfc4"/>
<circle cx="223.8" cy="95.4" r="3.05" fill="#00bfc4"/>
<circle cx="249.1" cy="93.6" r="3.05" fill="#00bfc4"/>
<circle cx="232.5" cy="97.6" r="3.05" fill="#00bfc4"/>
<circle cx="278.9" cy="96.1" r="3.05" fill="#00bfc4"/>
<circle cx="332.9" cy="96.6" r="3.05" fill="#00bfc4"/>
<circle cx="351.5" cy="95.1" r="3.05" fill="#00bfc4"/>
<circle cx="255.1" cy="100.9" r="3.05" fill="#00bfc4"/>
<circle cx="258.1" cy="102.2" r="3.05" fill="#00bfc4"/>
<circle cx="313.9" cy="101.4" r="3.05" fill="#00bfc4"/>
<circle cx="360.5" cy="102.7" r="3.05" fill="#00bfc4"/>
<circle cx="411.3" cy="38.3" r="3.05" fill="#f8766d"/>
<circle cx="447.9" cy="44.8" r="3.05" fill="#f8766d"/>
<circle cx="509" cy="61.8" r="3.05" fill="#f8766d"/>
<circle cx="533.2" cy="58.1" r="3.05" fill="#f8766d"/>
<circle cx="375.8" cy="42.3" r="3.05" fill="#00bfc4"/>
<circle cx="387" cy="52.6" r="3.05" fill="#00bfc4"/>
<circle cx="414.3" cy="75.1" r="3.05" fill="#00bfc4"/>
<circle cx="443.9" cy="70.4" r="3.05" fill="#00bfc4"/>
<circle cx="497.2" cy="79.1" r="3.05" fill="#00bfc4"/>
<circle cx="428.8" cy="87.9" r="3.05" fill="#00bfc4"/>
<circle cx="543.6" cy="40.1" r="3.05" fill="#f8766d"/>
<circle cx="537.3" cy="62.8" r="3.05" fill="#f8766d"/>
<circle cx="623.4" cy="41.3" r="3.05" fill="#f8766d"/>
<circle cx="134.6" cy="104.5" r="3.05" fill="#00bfc4"/>
<circle cx="153.4" cy="105.5" r="3.05" fill="#00bfc4"/>
<circle cx="159.2" cy="109.3" r="3.05" fill="#00bfc4"/>
<circle cx="150.9" cy="113.3" r="3.05" fill="#00bfc4"/>
<circle cx="174" cy="112.5" r="3.05" fill="#00bfc4"/>
<circle cx="183.5" cy="114.8" r="3.05" fill="#00bfc4"/>
<circle cx="190.2" cy="104.3" r="3.05" fill="#00bfc4"/>
<circle cx="197" cy="105.8" r="3.05" fill="#00bfc4"/>
<circle cx="115.9" cy="113" r="3.05" fill="#00bfc4"/>
<circle cx="107.1" cy="119.3" r="3.05" fill="#00bfc4"/>
<circle cx="97.1" cy="127" r="3.05" fill="#00bfc4"/>
<circle cx="88.3" cy="144.3" r="3.05" fill="#00bfc4"/>
<circle cx="98.8" cy="140.8" r="3.05" fill="#00bfc4"/>
<circle cx="120.1" cy="141.6" r="3.05" fill="#00bfc4"/>
<circle cx="162.7" cy="131.3" r="3.05" fill="#00bfc4"/>
<circle cx="162.2" cy="133.8" r="3.05" fill="#00bfc4"/>
<circle cx="170.9" cy="139.6" r="3.05" fill="#00bfc4"/>
<circle cx="172.2" cy="141.6" r="3.05" fill="#00bfc4"/>
<circle cx="168.4" cy="144.3" r="3.05" fill="#00bfc4"/>
<circle cx="176.5" cy="150.1" r="3.05" fill="#00bfc4"/>
<circle cx="185.5" cy="134.6" r="3.05" fill="#00bfc4"/>
<circle cx="193" cy="134.3" r="3.05" fill="#00bfc4"/>
<circle cx="189.7" cy="138.1" r="3.05" fill="#00bfc4"/>
<circle cx="197" cy="142.8" r="3.05" fill="#00bfc4"/>
<circle cx="142.7" cy="164.1" r="3.05" fill="#00bfc4"/>
<circle cx="173" cy="165.9" r="3.05" fill="#00bfc4"/>
<circle cx="130.9" cy="175.9" r="3.05" fill="#00bfc4"/>
<circle cx="154.7" cy="179.1" r="3.05" fill="#00bfc4"/>
<circle cx="171.2" cy="184.6" r="3.05" fill="#00bfc4"/>
<circle cx="73.6" cy="154.1" r="3.05" fill="#f8766d"/>
<circle cx="77.8" cy="186.9" r="3.05" fill="#f8766d"/>
<circle cx="207.5" cy="100.5" r="3.05" fill="#00bfc4"/>
<circle cx="332.9" cy="103.3" r="3.05" fill="#00bfc4"/>
<circle cx="267.1" cy="106.8" r="3.05" fill="#00bfc4"/>
<circle cx="225" cy="108.8" r="3.05" fill="#00bfc4"/>
<circle cx="257.6" cy="110.5" r="3.05" fill="#00bfc4"/>
<circle cx="210.5" cy="111.3" r="3.05" fill="#00bfc4"/>
<circle cx="214.3" cy="115" r="3.05" fill="#00bfc4"/>
<circle cx="253.3" cy="115" r="3.05" fill="#00bfc4"/>
<circle cx="258.1" cy="119.3" r="3.05" fill="#00bfc4"/>
<circle cx="211.3" cy="120" r="3.05" fill="#00bfc4"/>
<circle cx="220.5" cy="119.3" r="3.05" fill="#00bfc4"/>
<circle cx="289.4" cy="114.3" r="3.05" fill="#00bfc4"/>
<circle cx="282.1" cy="118.5" r="3.05" fill="#00bfc4"/>
<circle cx="318.4" cy="116.8" r="3.05" fill="#00bfc4"/>
<circle cx="325.4" cy="114.3" r="3.05" fill="#00bfc4"/>
<circle cx="235" cy="123.3" r="3.05" fill="#00bfc4"/>
<circle cx="243.1" cy="130.1" r="3.05" fill="#00bfc4"/>
<circle cx="299.6" cy="125.5" r="3.05" fill="#00bfc4"/>
<circle cx="301.9" cy="128.1" r="3.05" fill="#00bfc4"/>
<circle cx="338.2" cy="130.6" r="3.05" fill="#00bfc4"/>
<circle cx="360.5" cy="122.5" r="3.05" fill="#00bfc4"/>
<circle cx="264.1" cy="137.6" r="3.05" fill="#00bfc4"/>
<circle cx="267.8" cy="138.8" r="3.05" fill="#00bfc4"/>
<circle cx="350.7" cy="135.8" r="3.05" fill="#00bfc4"/>
<circle cx="346.7" cy="139.6" r="3.05" fill="#00bfc4"/>
<circle cx="347.2" cy="142.6" r="3.05" fill="#00bfc4"/>
<circle cx="227" cy="148.3" r="3.05" fill="#00bfc4"/>
<circle cx="240.1" cy="146.1" r="3.05" fill="#00bfc4"/>
<circle cx="355.5" cy="150.3" r="3.05" fill="#00bfc4"/>
<circle cx="318.7" cy="155.1" r="3.05" fill="#00bfc4"/>
<circle cx="339.5" cy="157.6" r="3.05" fill="#00bfc4"/>
<circle cx="348" cy="156.8" r="3.05" fill="#00bfc4"/>
<circle cx="352" cy="159.6" r="3.05" fill="#00bfc4"/>
<circle cx="220.8" cy="162.9" r="3.05" fill="#00bfc4"/>
<circle cx="271.6" cy="160.6" r="3.05" fill="#00bfc4"/>
<circle cx="308.2" cy="161.9" r="3.05" fill="#00bfc4"/>
<circle cx="306.2" cy="165.6" r="3.05" fill="#00bfc4"/>
<circle cx="288.4" cy="167.9" r="3.05" fill="#00bfc4"/>
<circle cx="313.4" cy="169.9" r="3.05" fill="#00bfc4"/>
<circle cx="341" cy="168.4" r="3.05" fill="#00bfc4"/>
<circle cx="358.2" cy="165.4" r="3.05" fill="#00bfc4"/>
<circle cx="361.5" cy="167.1" r="3.05" fill="#00bfc4"/>
<circle cx="344.5" cy="175.4" r="3.05" fill="#00bfc4"/>
<circle cx="263.1" cy="176.9" r="3.05" fill="#00bfc4"/>
<circle cx="208.8" cy="181.9" r="3.05" fill="#00bfc4"/>
<circle cx="243.6" cy="180.9" r="3.05" fill="#00bfc4"/>
<circle cx="355.5" cy="183.9" r="3.05" fill="#00bfc4"/>
<circle cx="433.9" cy="98.3" r="3.05" fill="#00bfc4"/>
<circle cx="443.5" cy="102.6" r="3.05" fill="#00bfc4"/>
<circle cx="452.9" cy="96.2" r="3.05" fill="#00bfc4"/>
<circle cx="432.8" cy="111.4" r="3.05" fill="#00bfc4"/>
<circle cx="445.6" cy="110.9" r="3.05" fill="#00bfc4"/>
<circle cx="369.9" cy="112.9" r="3.05" fill="#00bfc4"/>
<circle cx="380" cy="115.8" r="3.05" fill="#00bfc4"/>
<circle cx="386.1" cy="117" r="3.05" fill="#00bfc4"/>
<circle cx="387.9" cy="121.9" r="3.05" fill="#00bfc4"/>
<circle cx="397" cy="121.1" r="3.05" fill="#00bfc4"/>
<circle cx="369.7" cy="122.3" r="3.05" fill="#00bfc4"/>
<circle cx="443.3" cy="119.6" r="3.05" fill="#00bfc4"/>
<circle cx="411.9" cy="126.1" r="3.05" fill="#00bfc4"/>
<circle cx="414.2" cy="125" r="3.05" fill="#00bfc4"/>
<circle cx="403.9" cy="129.1" r="3.05" fill="#00bfc4"/>
<circle cx="403.9" cy="132.9" r="3.05" fill="#00bfc4"/>
<circle cx="391.9" cy="131.1" r="3.05" fill="#00bfc4"/>
<circle cx="449.1" cy="128.7" r="3.05" fill="#00bfc4"/>
<circle cx="452.9" cy="126.9" r="3.05" fill="#00bfc4"/>
<circle cx="420.3" cy="139.8" r="3.05" fill="#00bfc4"/>
<circle cx="422.8" cy="142" r="3.05" fill="#00bfc4"/>
<circle cx="434.7" cy="141.6" r="3.05" fill="#00bfc4"/>
<circle cx="369.4" cy="144.3" r="3.05" fill="#00bfc4"/>
<circle cx="370.9" cy="147.4" r="3.05" fill="#00bfc4"/>
<circle cx="392.5" cy="145.8" r="3.05" fill="#00bfc4"/>
<circle cx="421.3" cy="149.2" r="3.05" fill="#00bfc4"/>
<circle cx="426" cy="147.7" r="3.05" fill="#00bfc4"/>
<circle cx="452.9" cy="150.8" r="3.05" fill="#00bfc4"/>
<circle cx="370.2" cy="155.2" r="3.05" fill="#00bfc4"/>
<circle cx="379.3" cy="156.7" r="3.05" fill="#00bfc4"/>
<circle cx="383.1" cy="157.9" r="3.05" fill="#00bfc4"/>
<circle cx="386.9" cy="158.2" r="3.05" fill="#00bfc4"/>
<circle cx="391.4" cy="155.9" r="3.05" fill="#00bfc4"/>
<circle cx="394.8" cy="157" r="3.05" fill="#00bfc4"/>
<circle cx="399.5" cy="152.1" r="3.05" fill="#00bfc4"/>
<circle cx="403.6" cy="154" r="3.05" fill="#00bfc4"/>
<circle cx="407.7" cy="157" r="3.05" fill="#00bfc4"/>
<circle cx="405.8" cy="161.2" r="3.05" fill="#00bfc4"/>
<circle cx="409.9" cy="160.9" r="3.05" fill="#00bfc4"/>
<circle cx="394.9" cy="165.8" r="3.05" fill="#00bfc4"/>
<circle cx="402" cy="167" r="3.05" fill="#00bfc4"/>
<circle cx="412.4" cy="166.1" r="3.05" fill="#00bfc4"/>
<circle cx="367.1" cy="167" r="3.05" fill="#00bfc4"/>
<circle cx="369.4" cy="171.9" r="3.05" fill="#00bfc4"/>
<circle cx="397" cy="174.4" r="3.05" fill="#00bfc4"/>
<circle cx="415.7" cy="176.1" r="3.05" fill="#00bfc4"/>
<circle cx="411.1" cy="178.7" r="3.05" fill="#00bfc4"/>
<circle cx="430.9" cy="177.6" r="3.05" fill="#00bfc4"/>
<circle cx="439.5" cy="176.9" r="3.05" fill="#00bfc4"/>
<circle cx="371.7" cy="180.5" r="3.05" fill="#00bfc4"/>
<circle cx="367.9" cy="182.9" r="3.05" fill="#00bfc4"/>
<circle cx="430.4" cy="186" r="3.05" fill="#00bfc4"/>
<circle cx="454.4" cy="179.8" r="3.05" fill="#00bfc4"/>
<circle cx="468.1" cy="101.1" r="3.05" fill="#00bfc4"/>
<circle cx="490.1" cy="103.3" r="3.05" fill="#00bfc4"/>
<circle cx="484.2" cy="112" r="3.05" fill="#00bfc4"/>
<circle cx="484.2" cy="119.6" r="3.05" fill="#00bfc4"/>
<circle cx="490.8" cy="118.5" r="3.05" fill="#00bfc4"/>
<circle cx="494.3" cy="118.5" r="3.05" fill="#00bfc4"/>
<circle cx="471.1" cy="131.4" r="3.05" fill="#00bfc4"/>
<circle cx="469.7" cy="136.7" r="3.05" fill="#00bfc4"/>
<circle cx="504.6" cy="133.4" r="3.05" fill="#00bfc4"/>
<circle cx="543.9" cy="131.9" r="3.05" fill="#00bfc4"/>
<circle cx="539.8" cy="140.1" r="3.05" fill="#00bfc4"/>
<circle cx="495.1" cy="142.5" r="3.05" fill="#00bfc4"/>
<circle cx="506.5" cy="144.6" r="3.05" fill="#00bfc4"/>
<circle cx="463.7" cy="146.6" r="3.05" fill="#00bfc4"/>
<circle cx="482.9" cy="146.6" r="3.05" fill="#00bfc4"/>
<circle cx="517.5" cy="148.1" r="3.05" fill="#00bfc4"/>
<circle cx="456.4" cy="149.2" r="3.05" fill="#00bfc4"/>
<circle cx="501.4" cy="151.1" r="3.05" fill="#00bfc4"/>
<circle cx="528.2" cy="152.7" r="3.05" fill="#00bfc4"/>
<circle cx="459.4" cy="171.1" r="3.05" fill="#00bfc4"/>
<circle cx="467.5" cy="172.3" r="3.05" fill="#00bfc4"/>
<circle cx="480.4" cy="167.6" r="3.05" fill="#00bfc4"/>
<circle cx="478.1" cy="174.1" r="3.05" fill="#00bfc4"/>
<circle cx="480.7" cy="176" r="3.05" fill="#00bfc4"/>
<circle cx="464" cy="185.2" r="3.05" fill="#00bfc4"/>
<circle cx="507.2" cy="166.6" r="3.05" fill="#00bfc4"/>
<circle cx="514.8" cy="166.1" r="3.05" fill="#00bfc4"/>
<circle cx="513.6" cy="170.3" r="3.05" fill="#00bfc4"/>
<circle cx="537.3" cy="166.1" r="3.05" fill="#00bfc4"/>
<circle cx="526.6" cy="181.4" r="3.05" fill="#00bfc4"/>
<circle cx="496.1" cy="186.6" r="3.05" fill="#00bfc4"/>
<circle cx="506.2" cy="185.2" r="3.05" fill="#00bfc4"/>
<circle cx="561.6" cy="146.6" r="3.05" fill="#00bfc4"/>
<circle cx="591.4" cy="153.1" r="3.05" fill="#f8766d"/>
<circle cx="624.9" cy="171.1" r="3.05" fill="#f8766d"/>
<circle cx="168.9" cy="205.3" r="3.05" fill="#f8766d"/>
<circle cx="168.2" cy="218" r="3.05" fill="#f8766d"/>
<circle cx="99.3" cy="237.6" r="3.05" fill="#f8766d"/>
<circle cx="139.2" cy="237.6" r="3.05" fill="#f8766d"/>
<circle cx="188.7" cy="264.9" r="3.05" fill="#f8766d"/>
<circle cx="132.6" cy="284.6" r="3.05" fill="#f8766d"/>
<circle cx="221.5" cy="200.5" r="3.05" fill="#f8766d"/>
<circle cx="303.1" cy="197.8" r="3.05" fill="#f8766d"/>
<circle cx="334.7" cy="205.3" r="3.05" fill="#f8766d"/>
<circle cx="354.7" cy="204.8" r="3.05" fill="#f8766d"/>
<circle cx="359" cy="212.8" r="3.05" fill="#f8766d"/>
<circle cx="268.3" cy="229.3" r="3.05" fill="#f8766d"/>
<circle cx="351" cy="236.3" r="3.05" fill="#f8766d"/>
<circle cx="220.3" cy="263.9" r="3.05" fill="#f8766d"/>
<circle cx="283.4" cy="276.9" r="3.05" fill="#f8766d"/>
<circle cx="291.6" cy="277.6" r="3.05" fill="#f8766d"/>
<circle cx="299.1" cy="286.6" r="3.05" fill="#00bfc4"/>
<circle cx="360" cy="285.9" r="3.05" fill="#00bfc4"/>
<circle cx="323.4" cy="291.9" r="3.05" fill="#00bfc4"/>
<circle cx="349.7" cy="290.9" r="3.05" fill="#00bfc4"/>
<circle cx="428.9" cy="216.8" r="3.05" fill="#f8766d"/>
<circle cx="446.9" cy="235.1" r="3.05" fill="#00bfc4"/>
<circle cx="420.6" cy="250.3" r="3.05" fill="#00bfc4"/>
<circle cx="471.7" cy="246.6" r="3.05" fill="#00bfc4"/>
<circle cx="479.4" cy="244.3" r="3.05" fill="#00bfc4"/>
<circle cx="386.3" cy="270.4" r="3.05" fill="#00bfc4"/>
<circle cx="376.5" cy="279.4" r="3.05" fill="#00bfc4"/>
<circle cx="541.8" cy="215.8" r="3.05" fill="#f8766d"/>
<circle cx="560.9" cy="221" r="3.05" fill="#f8766d"/>
<circle cx="624.9" cy="226.8" r="3.05" fill="#f8766d"/>
<circle cx="591.4" cy="251.8" r="3.05" fill="#f8766d"/>
<circle cx="611.7" cy="272.1" r="3.05" fill="#f8766d"/>
<circle cx="434.9" cy="266.1" r="3.05" fill="#00bfc4"/>
<circle cx="423.8" cy="272.5" r="3.05" fill="#00bfc4"/>
<circle cx="432.6" cy="279.3" r="3.05" fill="#00bfc4"/>
<circle cx="442.8" cy="277.8" r="3.05" fill="#00bfc4"/>
<circle cx="476.5" cy="274.4" r="3.05" fill="#00bfc4"/>
<circle cx="477.4" cy="277.3" r="3.05" fill="#00bfc4"/>
<circle cx="478.2" cy="282.3" r="3.05" fill="#00bfc4"/>
<circle cx="484.5" cy="282.3" r="3.05" fill="#00bfc4"/>
<circle cx="460.7" cy="284.9" r="3.05" fill="#00bfc4"/>
<circle cx="406.8" cy="285.8" r="3.05" fill="#00bfc4"/>
<circle cx="409.9" cy="290.2" r="3.05" fill="#00bfc4"/>
<circle cx="429.6" cy="286.4" r="3.05" fill="#00bfc4"/>
<circle cx="426.4" cy="291" r="3.05" fill="#00bfc4"/>
<circle cx="448.9" cy="293.2" r="3.05" fill="#00bfc4"/>
<circle cx="467.5" cy="291.9" r="3.05" fill="#00bfc4"/>
<circle cx="461.8" cy="296" r="3.05" fill="#00bfc4"/>
<circle cx="468.3" cy="300.1" r="3.05" fill="#00bfc4"/>
<circle cx="418.1" cy="299.5" r="3.05" fill="#00bfc4"/>
<circle cx="437.9" cy="309.6" r="3.05" fill="#00bfc4"/>
<circle cx="406.8" cy="312.2" r="3.05" fill="#00bfc4"/>
<circle cx="431" cy="315.2" r="3.05" fill="#00bfc4"/>
<circle cx="487.6" cy="310.1" r="3.05" fill="#00bfc4"/>
<circle cx="545.4" cy="260.6" r="3.05" fill="#00bfc4"/>
<circle cx="553.4" cy="266.1" r="3.05" fill="#00bfc4"/>
<circle cx="554.8" cy="271.2" r="3.05" fill="#00bfc4"/>
<circle cx="496.8" cy="268.4" r="3.05" fill="#00bfc4"/>
<circle cx="514.3" cy="278.5" r="3.05" fill="#00bfc4"/>
<circle cx="524.5" cy="278.2" r="3.05" fill="#00bfc4"/>
<circle cx="542.4" cy="282.8" r="3.05" fill="#00bfc4"/>
<circle cx="552.8" cy="284.9" r="3.05" fill="#00bfc4"/>
<circle cx="571" cy="281.6" r="3.05" fill="#00bfc4"/>
<circle cx="578" cy="287.2" r="3.05" fill="#00bfc4"/>
<circle cx="563.1" cy="289.9" r="3.05" fill="#00bfc4"/>
<circle cx="565.4" cy="291.4" r="3.05" fill="#00bfc4"/>
<circle cx="500.2" cy="294.8" r="3.05" fill="#00bfc4"/>
<circle cx="518.8" cy="293.4" r="3.05" fill="#00bfc4"/>
<circle cx="525.7" cy="292.9" r="3.05" fill="#00bfc4"/>
<circle cx="504" cy="301" r="3.05" fill="#00bfc4"/>
<circle cx="509.3" cy="304.8" r="3.05" fill="#00bfc4"/>
<circle cx="538.9" cy="304" r="3.05" fill="#00bfc4"/>
<circle cx="543.4" cy="303.1" r="3.05" fill="#00bfc4"/>
<circle cx="550.7" cy="303.3" r="3.05" fill="#00bfc4"/>
<circle cx="563.1" cy="303.9" r="3.05" fill="#00bfc4"/>
<circle cx="524.5" cy="308.6" r="3.05" fill="#00bfc4"/>
<circle cx="515.3" cy="309.3" r="3.05" fill="#00bfc4"/>
<circle cx="515.3" cy="311.9" r="3.05" fill="#00bfc4"/>
<circle cx="500.9" cy="310.7" r="3.05" fill="#00bfc4"/>
<circle cx="507.3" cy="314.9" r="3.05" fill="#00bfc4"/>
<circle cx="548.3" cy="314.2" r="3.05" fill="#00bfc4"/>
<circle cx="560.9" cy="309.3" r="3.05" fill="#00bfc4"/>
<circle cx="565.4" cy="312.7" r="3.05" fill="#00bfc4"/>
<circle cx="614.1" cy="300.1" r="3.05" fill="#00bfc4"/>
<circle cx="429.6" cy="319.7" r="3.05" fill="#00bfc4"/>
<circle cx="445.1" cy="318.7" r="3.05" fill="#00bfc4"/>
<circle cx="448.1" cy="319.7" r="3.05" fill="#00bfc4"/>
<circle cx="442" cy="321.2" r="3.05" fill="#00bfc4"/>
<circle cx="440.5" cy="324" r="3.05" fill="#00bfc4"/>
<circle cx="443.3" cy="329.6" r="3.05" fill="#00bfc4"/>
<circle cx="447.8" cy="331.6" r="3.05" fill="#00bfc4"/>
<circle cx="438.2" cy="334.1" r="3.05" fill="#00bfc4"/>
<circle cx="450.7" cy="337.9" r="3.05" fill="#00bfc4"/>
<circle cx="465.1" cy="325.5" r="3.05" fill="#00bfc4"/>
<circle cx="479.5" cy="329.7" r="3.05" fill="#00bfc4"/>
<circle cx="488.3" cy="318.2" r="3.05" fill="#00bfc4"/>
<circle cx="490.9" cy="320.5" r="3.05" fill="#00bfc4"/>
<circle cx="493.6" cy="326.2" r="3.05" fill="#00bfc4"/>
<circle cx="494.4" cy="336.4" r="3.05" fill="#00bfc4"/>
<circle cx="413.7" cy="331.6" r="3.05" fill="#00bfc4"/>
<circle cx="395.8" cy="338.8" r="3.05" fill="#00bfc4"/>
<circle cx="470.4" cy="344.8" r="3.05" fill="#00bfc4"/>
<circle cx="476.5" cy="358.6" r="3.05" fill="#00bfc4"/>
<circle cx="533.6" cy="324.3" r="3.05" fill="#00bfc4"/>
<circle cx="552.8" cy="321.7" r="3.05" fill="#00bfc4"/>
<circle cx="558.6" cy="328.5" r="3.05" fill="#00bfc4"/>
<circle cx="576.5" cy="329" r="3.05" fill="#00bfc4"/>
<circle cx="517.9" cy="329" r="3.05" fill="#00bfc4"/>
<circle cx="519.6" cy="332.3" r="3.05" fill="#00bfc4"/>
<circle cx="508.5" cy="331.9" r="3.05" fill="#00bfc4"/>
<circle cx="513.1" cy="331.6" r="3.05" fill="#00bfc4"/>
<circle cx="540.1" cy="329" r="3.05" fill="#00bfc4"/>
<circle cx="536.6" cy="332.6" r="3.05" fill="#00bfc4"/>
<circle cx="505.5" cy="335.3" r="3.05" fill="#00bfc4"/>
<circle cx="504.7" cy="338.4" r="3.05" fill="#00bfc4"/>
<circle cx="548.3" cy="337.6" r="3.05" fill="#00bfc4"/>
<circle cx="550.3" cy="341" r="3.05" fill="#00bfc4"/>
<circle cx="521" cy="344.2" r="3.05" fill="#00bfc4"/>
<circle cx="535.8" cy="347.2" r="3.05" fill="#00bfc4"/>
<circle cx="499.7" cy="348.7" r="3.05" fill="#00bfc4"/>
<circle cx="501.7" cy="354.3" r="3.05" fill="#00bfc4"/>
<circle cx="580.9" cy="352.5" r="3.05" fill="#00bfc4"/>
<circle cx="590.6" cy="333.5" r="3.05" fill="#00bfc4"/>
<circle cx="605.3" cy="321.7" r="3.05" fill="#00bfc4"/>
<circle cx="606.5" cy="327" r="3.05" fill="#00bfc4"/>
<circle cx="156.7" cy="339.8" r="3.05" fill="#f8766d"/>
<circle cx="167.7" cy="339.6" r="3.05" fill="#f8766d"/>
<circle cx="164.4" cy="348.6" r="3.05" fill="#f8766d"/>
<circle cx="269.1" cy="312.3" r="3.05" fill="#f8766d"/>
<circle cx="346.2" cy="352.1" r="3.05" fill="#f8766d"/>
<circle cx="320.7" cy="296" r="3.05" fill="#00bfc4"/>
<circle cx="307.7" cy="312.5" r="3.05" fill="#00bfc4"/>
<circle cx="340" cy="315" r="3.05" fill="#00bfc4"/>
<circle cx="361.5" cy="346.3" r="3.05" fill="#00bfc4"/>
<circle cx="365.5" cy="347.1" r="3.05" fill="#00bfc4"/>
<circle cx="364" cy="350.6" r="3.05" fill="#00bfc4"/>
<circle cx="384.6" cy="296.8" r="3.05" fill="#00bfc4"/>
<circle cx="387.4" cy="317.9" r="3.05" fill="#00bfc4"/>
<circle cx="380.8" cy="333.9" r="3.05" fill="#00bfc4"/>
<circle cx="374.8" cy="349.3" r="3.05" fill="#00bfc4"/>
</g>
<g stroke="#333333" stroke-width="1.3" fill="none">
<path d="M68.3 374.5 v3"/><path d="M46 362.2 h-3"/>
<path d="M207.8 374.5 v3"/><path d="M46 276.8 h-3"/>
<path d="M347.3 374.5 v3"/><path d="M46 191.3 h-3"/>
<path d="M486.8 374.5 v3"/><path d="M46 105.8 h-3"/>
<path d="M626.3 374.5 v3"/><path d="M46 20.4 h-3"/>
</g>
<g fill="#4d4d4d" font-size="10.2px" filter="url(#nf)">
<text x="68.3" y="388.7" text-anchor="middle">0</text><text x="40.3" y="366.3" text-anchor="end">0</text>
<text x="207.8" y="388.7" text-anchor="middle">25</text><text x="40.3" y="280.9" text-anchor="end">25</text>
<text x="347.3" y="388.7" text-anchor="middle">50</text><text x="40.3" y="195.4" text-anchor="end">50</text>
<text x="486.8" y="388.7" text-anchor="middle">75</text><text x="40.3" y="109.9" text-anchor="end">75</text>
<text x="626.3" y="388.7" text-anchor="middle">100</text><text x="40.3" y="24.5" text-anchor="end">100</text>
</g>
<text x="349.3" y="403.4" text-anchor="middle" font-size="12.6px" fill="#000000" filter="url(#nf)">Loyalty</text>
<g filter="url(#nf)"><text transform="translate(17.7,190.5) rotate(-90)" text-anchor="middle" font-size="12.5px" fill="#000000">Sensitivity</text></g>
</svg>
</body></html>
